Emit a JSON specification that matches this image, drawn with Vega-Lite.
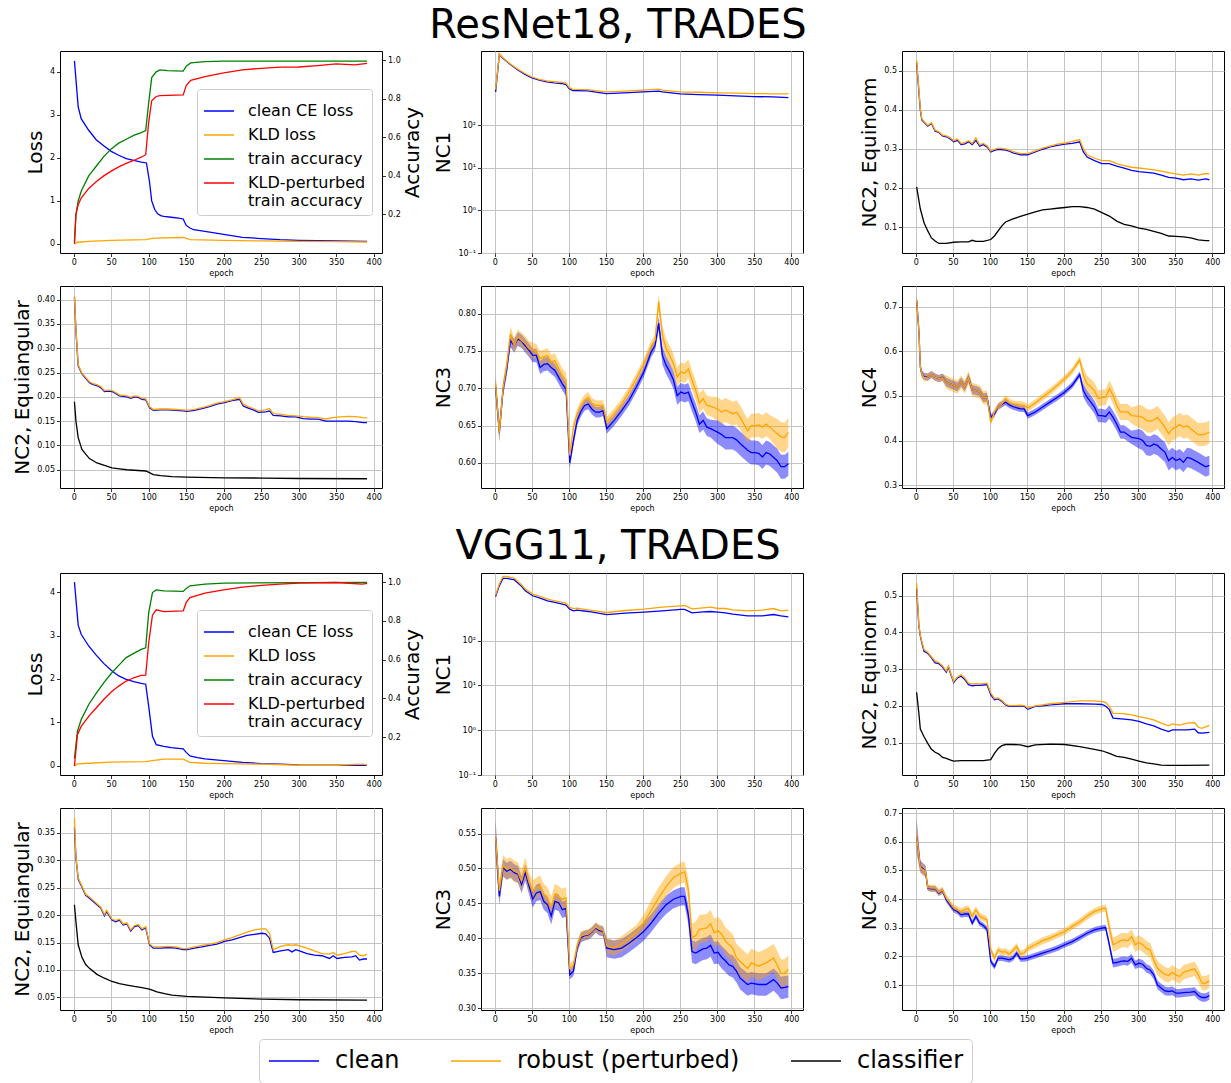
{
"$schema":"https://vega.github.io/schema/vega-lite/v6.json",
"padding":{"left":12,"top":5,"right":8,"bottom":2},
"config":{
"font":"DejaVu Sans",
"view":{"stroke":"#000000","strokeWidth":1},
"axis":{"domain":false,"tickColor":"#000000","tickSize":3.5,"tickWidth":0.8,"labelFontSize":8,"labelColor":"#000000","labelPadding":2,"titleFontSize":20,"titleFontWeight":"normal","titleColor":"#000000","titlePadding":4,"gridColor":"#c4c4c4","gridWidth":1,"labelFlush":false,"labelOverlap":false},
"axisX":{"titleFontSize":8,"titlePadding":3}
},
"bounds":"flush",
"columns":3,
"spacing":{"row":33,"column":99},
"resolve":{"scale":{"stroke":"independent"}},
"datasets":{
"rL":[
{"s":"a","e":1,"v":4.25},{"s":"a","e":6,"v":3.18},{"s":"a","e":10,"v":2.91},{"s":"a","e":20,"v":2.64},{"s":"a","e":30,"v":2.42},{"s":"a","e":40,"v":2.28},{"s":"a","e":50,"v":2.15},{"s":"a","e":60,"v":2.06},{"s":"a","e":70,"v":1.98},{"s":"a","e":80,"v":1.94},{"s":"a","e":90,"v":1.9},{"s":"a","e":97,"v":1.88},{"s":"a","e":101,"v":1.45},{"s":"a","e":104,"v":1.0},{"s":"a","e":108,"v":0.8},{"s":"a","e":112,"v":0.7},{"s":"a","e":116,"v":0.66},{"s":"a","e":120,"v":0.64},{"s":"a","e":130,"v":0.62},{"s":"a","e":140,"v":0.6},{"s":"a","e":146,"v":0.58},{"s":"a","e":150,"v":0.43},{"s":"a","e":155,"v":0.37},{"s":"a","e":160,"v":0.33},{"s":"a","e":175,"v":0.29},{"s":"a","e":200,"v":0.22},{"s":"a","e":225,"v":0.155},{"s":"a","e":250,"v":0.125},{"s":"a","e":275,"v":0.1},{"s":"a","e":300,"v":0.085},{"s":"a","e":350,"v":0.07},{"s":"a","e":391,"v":0.06},
{"s":"b","e":1,"v":0.0},{"s":"b","e":5,"v":0.04},{"s":"b","e":20,"v":0.06},{"s":"b","e":50,"v":0.085},{"s":"b","e":96,"v":0.1},{"s":"b","e":105,"v":0.13},{"s":"b","e":120,"v":0.14},{"s":"b","e":146,"v":0.15},{"s":"b","e":155,"v":0.1},{"s":"b","e":200,"v":0.085},{"s":"b","e":250,"v":0.07},{"s":"b","e":300,"v":0.06},{"s":"b","e":350,"v":0.055},{"s":"b","e":391,"v":0.045},
{"s":"c","e":1,"v":0.06},{"s":"c","e":3,"v":0.2},{"s":"c","e":6,"v":0.27},{"s":"c","e":10,"v":0.32},{"s":"c","e":20,"v":0.4},{"s":"c","e":30,"v":0.45},{"s":"c","e":40,"v":0.5},{"s":"c","e":50,"v":0.54},{"s":"c","e":60,"v":0.57},{"s":"c","e":70,"v":0.59},{"s":"c","e":80,"v":0.61},{"s":"c","e":90,"v":0.625},{"s":"c","e":96,"v":0.635},{"s":"c","e":100,"v":0.78},{"s":"c","e":104,"v":0.91},{"s":"c","e":110,"v":0.94},{"s":"c","e":115,"v":0.95},{"s":"c","e":125,"v":0.946},{"s":"c","e":146,"v":0.944},{"s":"c","e":150,"v":0.969},{"s":"c","e":156,"v":0.986},{"s":"c","e":175,"v":0.993},{"s":"c","e":200,"v":0.995},{"s":"c","e":391,"v":0.995},
{"s":"d","e":1,"v":0.048},{"s":"d","e":3,"v":0.2},{"s":"d","e":6,"v":0.25},{"s":"d","e":10,"v":0.285},{"s":"d","e":20,"v":0.335},{"s":"d","e":30,"v":0.37},{"s":"d","e":40,"v":0.4},{"s":"d","e":50,"v":0.425},{"s":"d","e":60,"v":0.447},{"s":"d","e":70,"v":0.465},{"s":"d","e":80,"v":0.48},{"s":"d","e":90,"v":0.497},{"s":"d","e":96,"v":0.51},{"s":"d","e":100,"v":0.68},{"s":"d","e":104,"v":0.79},{"s":"d","e":110,"v":0.812},{"s":"d","e":115,"v":0.817},{"s":"d","e":146,"v":0.82},{"s":"d","e":150,"v":0.869},{"s":"d","e":156,"v":0.896},{"s":"d","e":175,"v":0.915},{"s":"d","e":200,"v":0.935},{"s":"d","e":225,"v":0.95},{"s":"d","e":250,"v":0.958},{"s":"d","e":275,"v":0.964},{"s":"d","e":300,"v":0.965},{"s":"d","e":325,"v":0.972},{"s":"d","e":350,"v":0.981},{"s":"d","e":375,"v":0.976},{"s":"d","e":391,"v":0.984}
],
"rN1":[
{"s":"c","e":1,"v":612},{"s":"c","e":6,"v":4670},{"s":"c","e":10,"v":3890},{"s":"c","e":20,"v":2760},{"s":"c","e":30,"v":2065},{"s":"c","e":40,"v":1600},{"s":"c","e":50,"v":1310},{"s":"c","e":60,"v":1155},{"s":"c","e":70,"v":1055},{"s":"c","e":80,"v":1000},{"s":"c","e":90,"v":965},{"s":"c","e":96,"v":914},{"s":"c","e":100,"v":735},{"s":"c","e":105,"v":660},{"s":"c","e":125,"v":647},{"s":"c","e":150,"v":560},{"s":"c","e":175,"v":580},{"s":"c","e":200,"v":612},{"s":"c","e":221,"v":637},{"s":"c","e":226,"v":610},{"s":"c","e":250,"v":550},{"s":"c","e":275,"v":530},{"s":"c","e":300,"v":512},{"s":"c","e":325,"v":493},{"s":"c","e":350,"v":476},{"s":"c","e":375,"v":467},{"s":"c","e":396,"v":451},
{"s":"r","e":1,"v":700},{"s":"r","e":6,"v":4800},{"s":"r","e":10,"v":4000},{"s":"r","e":20,"v":2850},{"s":"r","e":30,"v":2150},{"s":"r","e":40,"v":1680},{"s":"r","e":50,"v":1370},{"s":"r","e":60,"v":1210},{"s":"r","e":70,"v":1110},{"s":"r","e":80,"v":1060},{"s":"r","e":90,"v":1020},{"s":"r","e":96,"v":980},{"s":"r","e":100,"v":790},{"s":"r","e":105,"v":700},{"s":"r","e":125,"v":690},{"s":"r","e":150,"v":612},{"s":"r","e":175,"v":640},{"s":"r","e":200,"v":671},{"s":"r","e":221,"v":708},{"s":"r","e":226,"v":670},{"s":"r","e":250,"v":612},{"s":"r","e":275,"v":600},{"s":"r","e":300,"v":580},{"s":"r","e":325,"v":570},{"s":"r","e":350,"v":560},{"s":"r","e":375,"v":550},{"s":"r","e":396,"v":550}
],
"rN2a":[
{"s":"c","e":1,"v":0.52},{"s":"c","e":6,"v":0.399},{"s":"c","e":8,"v":0.374},{"s":"c","e":11,"v":0.368},{"s":"c","e":16,"v":0.358},{"s":"c","e":21,"v":0.365},{"s":"c","e":26,"v":0.345},{"s":"c","e":31,"v":0.342},{"s":"c","e":36,"v":0.333},{"s":"c","e":41,"v":0.331},{"s":"c","e":46,"v":0.326},{"s":"c","e":51,"v":0.318},{"s":"c","e":56,"v":0.322},{"s":"c","e":61,"v":0.311},{"s":"c","e":66,"v":0.313},{"s":"c","e":71,"v":0.318},{"s":"c","e":76,"v":0.311},{"s":"c","e":81,"v":0.322},{"s":"c","e":86,"v":0.307},{"s":"c","e":91,"v":0.311},{"s":"c","e":96,"v":0.305},{"s":"c","e":101,"v":0.292},{"s":"c","e":106,"v":0.296},{"s":"c","e":111,"v":0.299},{"s":"c","e":121,"v":0.297},{"s":"c","e":126,"v":0.294},{"s":"c","e":131,"v":0.29},{"s":"c","e":141,"v":0.285},{"s":"c","e":151,"v":0.285},{"s":"c","e":161,"v":0.292},{"s":"c","e":171,"v":0.299},{"s":"c","e":181,"v":0.305},{"s":"c","e":191,"v":0.309},{"s":"c","e":201,"v":0.312},{"s":"c","e":211,"v":0.314},{"s":"c","e":221,"v":0.318},{"s":"c","e":226,"v":0.292},{"s":"c","e":231,"v":0.279},{"s":"c","e":241,"v":0.27},{"s":"c","e":251,"v":0.262},{"s":"c","e":261,"v":0.262},{"s":"c","e":271,"v":0.256},{"s":"c","e":281,"v":0.251},{"s":"c","e":291,"v":0.245},{"s":"c","e":301,"v":0.242},{"s":"c","e":311,"v":0.24},{"s":"c","e":321,"v":0.238},{"s":"c","e":331,"v":0.233},{"s":"c","e":341,"v":0.227},{"s":"c","e":351,"v":0.225},{"s":"c","e":361,"v":0.221},{"s":"c","e":371,"v":0.223},{"s":"c","e":381,"v":0.22},{"s":"c","e":391,"v":0.223},{"s":"c","e":396,"v":0.221},
{"s":"r","e":1,"v":0.527},{"s":"r","e":6,"v":0.402},{"s":"r","e":8,"v":0.377},{"s":"r","e":11,"v":0.37},{"s":"r","e":16,"v":0.36},{"s":"r","e":21,"v":0.367},{"s":"r","e":26,"v":0.348},{"s":"r","e":31,"v":0.344},{"s":"r","e":36,"v":0.335},{"s":"r","e":41,"v":0.333},{"s":"r","e":46,"v":0.329},{"s":"r","e":51,"v":0.321},{"s":"r","e":56,"v":0.325},{"s":"r","e":61,"v":0.314},{"s":"r","e":66,"v":0.316},{"s":"r","e":71,"v":0.321},{"s":"r","e":76,"v":0.314},{"s":"r","e":81,"v":0.328},{"s":"r","e":86,"v":0.31},{"s":"r","e":91,"v":0.314},{"s":"r","e":96,"v":0.308},{"s":"r","e":101,"v":0.295},{"s":"r","e":106,"v":0.299},{"s":"r","e":111,"v":0.302},{"s":"r","e":121,"v":0.3},{"s":"r","e":126,"v":0.297},{"s":"r","e":131,"v":0.293},{"s":"r","e":141,"v":0.288},{"s":"r","e":151,"v":0.288},{"s":"r","e":161,"v":0.295},{"s":"r","e":171,"v":0.302},{"s":"r","e":181,"v":0.307},{"s":"r","e":191,"v":0.312},{"s":"r","e":201,"v":0.315},{"s":"r","e":211,"v":0.319},{"s":"r","e":221,"v":0.324},{"s":"r","e":226,"v":0.3},{"s":"r","e":231,"v":0.285},{"s":"r","e":241,"v":0.276},{"s":"r","e":251,"v":0.27},{"s":"r","e":261,"v":0.27},{"s":"r","e":271,"v":0.262},{"s":"r","e":281,"v":0.257},{"s":"r","e":291,"v":0.253},{"s":"r","e":301,"v":0.251},{"s":"r","e":311,"v":0.249},{"s":"r","e":321,"v":0.246},{"s":"r","e":331,"v":0.243},{"s":"r","e":341,"v":0.239},{"s":"r","e":351,"v":0.236},{"s":"r","e":361,"v":0.233},{"s":"r","e":371,"v":0.236},{"s":"r","e":381,"v":0.233},{"s":"r","e":391,"v":0.237},{"s":"r","e":396,"v":0.236},
{"s":"k","e":1,"v":0.203},{"s":"k","e":6,"v":0.146},{"s":"k","e":11,"v":0.111},{"s":"k","e":16,"v":0.09},{"s":"k","e":21,"v":0.072},{"s":"k","e":26,"v":0.064},{"s":"k","e":31,"v":0.058},{"s":"k","e":41,"v":0.058},{"s":"k","e":51,"v":0.061},{"s":"k","e":61,"v":0.062},{"s":"k","e":71,"v":0.062},{"s":"k","e":76,"v":0.066},{"s":"k","e":81,"v":0.063},{"s":"k","e":91,"v":0.063},{"s":"k","e":101,"v":0.068},{"s":"k","e":106,"v":0.077},{"s":"k","e":111,"v":0.09},{"s":"k","e":116,"v":0.103},{"s":"k","e":121,"v":0.113},{"s":"k","e":131,"v":0.121},{"s":"k","e":141,"v":0.127},{"s":"k","e":151,"v":0.133},{"s":"k","e":161,"v":0.139},{"s":"k","e":171,"v":0.144},{"s":"k","e":181,"v":0.146},{"s":"k","e":191,"v":0.148},{"s":"k","e":201,"v":0.15},{"s":"k","e":211,"v":0.152},{"s":"k","e":221,"v":0.152},{"s":"k","e":231,"v":0.15},{"s":"k","e":241,"v":0.146},{"s":"k","e":251,"v":0.137},{"s":"k","e":261,"v":0.128},{"s":"k","e":271,"v":0.115},{"s":"k","e":281,"v":0.107},{"s":"k","e":291,"v":0.103},{"s":"k","e":301,"v":0.097},{"s":"k","e":311,"v":0.094},{"s":"k","e":321,"v":0.089},{"s":"k","e":331,"v":0.084},{"s":"k","e":341,"v":0.077},{"s":"k","e":351,"v":0.076},{"s":"k","e":361,"v":0.075},{"s":"k","e":371,"v":0.072},{"s":"k","e":381,"v":0.067},{"s":"k","e":391,"v":0.065},{"s":"k","e":396,"v":0.065}
],
"rN2b":[
{"s":"c","e":1,"v":0.405},{"s":"c","e":3,"v":0.336},{"s":"c","e":6,"v":0.264},{"s":"c","e":11,"v":0.247},{"s":"c","e":16,"v":0.238},{"s":"c","e":21,"v":0.229},{"s":"c","e":26,"v":0.225},{"s":"c","e":31,"v":0.223},{"s":"c","e":36,"v":0.219},{"s":"c","e":41,"v":0.211},{"s":"c","e":46,"v":0.212},{"s":"c","e":51,"v":0.211},{"s":"c","e":56,"v":0.207},{"s":"c","e":61,"v":0.202},{"s":"c","e":66,"v":0.201},{"s":"c","e":71,"v":0.2},{"s":"c","e":76,"v":0.197},{"s":"c","e":81,"v":0.2},{"s":"c","e":86,"v":0.199},{"s":"c","e":91,"v":0.195},{"s":"c","e":96,"v":0.194},{"s":"c","e":101,"v":0.178},{"s":"c","e":106,"v":0.172},{"s":"c","e":116,"v":0.173},{"s":"c","e":126,"v":0.173},{"s":"c","e":136,"v":0.172},{"s":"c","e":146,"v":0.171},{"s":"c","e":151,"v":0.17},{"s":"c","e":161,"v":0.172},{"s":"c","e":171,"v":0.176},{"s":"c","e":181,"v":0.18},{"s":"c","e":191,"v":0.185},{"s":"c","e":201,"v":0.188},{"s":"c","e":211,"v":0.192},{"s":"c","e":221,"v":0.195},{"s":"c","e":226,"v":0.181},{"s":"c","e":231,"v":0.178},{"s":"c","e":241,"v":0.172},{"s":"c","e":246,"v":0.168},{"s":"c","e":256,"v":0.169},{"s":"c","e":261,"v":0.171},{"s":"c","e":266,"v":0.162},{"s":"c","e":276,"v":0.161},{"s":"c","e":286,"v":0.159},{"s":"c","e":296,"v":0.159},{"s":"c","e":306,"v":0.155},{"s":"c","e":316,"v":0.154},{"s":"c","e":326,"v":0.154},{"s":"c","e":336,"v":0.15},{"s":"c","e":346,"v":0.15},{"s":"c","e":356,"v":0.15},{"s":"c","e":366,"v":0.15},{"s":"c","e":376,"v":0.149},{"s":"c","e":386,"v":0.147},{"s":"c","e":391,"v":0.147},
{"s":"r","e":1,"v":0.407},{"s":"r","e":3,"v":0.338},{"s":"r","e":6,"v":0.266},{"s":"r","e":11,"v":0.249},{"s":"r","e":16,"v":0.24},{"s":"r","e":21,"v":0.231},{"s":"r","e":26,"v":0.227},{"s":"r","e":31,"v":0.225},{"s":"r","e":36,"v":0.221},{"s":"r","e":41,"v":0.213},{"s":"r","e":46,"v":0.214},{"s":"r","e":51,"v":0.213},{"s":"r","e":56,"v":0.209},{"s":"r","e":61,"v":0.204},{"s":"r","e":66,"v":0.203},{"s":"r","e":71,"v":0.202},{"s":"r","e":76,"v":0.199},{"s":"r","e":81,"v":0.202},{"s":"r","e":86,"v":0.201},{"s":"r","e":91,"v":0.197},{"s":"r","e":96,"v":0.196},{"s":"r","e":101,"v":0.18},{"s":"r","e":106,"v":0.174},{"s":"r","e":116,"v":0.175},{"s":"r","e":126,"v":0.175},{"s":"r","e":136,"v":0.174},{"s":"r","e":146,"v":0.173},{"s":"r","e":151,"v":0.172},{"s":"r","e":161,"v":0.174},{"s":"r","e":171,"v":0.178},{"s":"r","e":181,"v":0.182},{"s":"r","e":191,"v":0.187},{"s":"r","e":201,"v":0.19},{"s":"r","e":211,"v":0.194},{"s":"r","e":221,"v":0.1985},{"s":"r","e":226,"v":0.185},{"s":"r","e":231,"v":0.181},{"s":"r","e":241,"v":0.175},{"s":"r","e":246,"v":0.171},{"s":"r","e":256,"v":0.173},{"s":"r","e":261,"v":0.176},{"s":"r","e":266,"v":0.1655},{"s":"r","e":276,"v":0.164},{"s":"r","e":286,"v":0.162},{"s":"r","e":296,"v":0.161},{"s":"r","e":306,"v":0.1593},{"s":"r","e":316,"v":0.158},{"s":"r","e":326,"v":0.1573},{"s":"r","e":336,"v":0.1545},{"s":"r","e":346,"v":0.1573},{"s":"r","e":356,"v":0.1586},{"s":"r","e":366,"v":0.16},{"s":"r","e":376,"v":0.1593},{"s":"r","e":386,"v":0.1573},{"s":"r","e":391,"v":0.1566},
{"s":"k","e":1,"v":0.19},{"s":"k","e":3,"v":0.15},{"s":"k","e":6,"v":0.116},{"s":"k","e":11,"v":0.092},{"s":"k","e":16,"v":0.082},{"s":"k","e":21,"v":0.073},{"s":"k","e":31,"v":0.064},{"s":"k","e":41,"v":0.059},{"s":"k","e":51,"v":0.054},{"s":"k","e":61,"v":0.052},{"s":"k","e":71,"v":0.05},{"s":"k","e":81,"v":0.049},{"s":"k","e":91,"v":0.048},{"s":"k","e":96,"v":0.0475},{"s":"k","e":101,"v":0.044},{"s":"k","e":106,"v":0.04},{"s":"k","e":116,"v":0.038},{"s":"k","e":131,"v":0.036},{"s":"k","e":151,"v":0.035},{"s":"k","e":201,"v":0.0335},{"s":"k","e":251,"v":0.033},{"s":"k","e":301,"v":0.032},{"s":"k","e":391,"v":0.0315}
],
"rN3":[
{"s":"c","e":1,"v":0.702,"l":0.69,"h":0.714},{"s":"c","e":6,"v":0.641,"l":0.629,"h":0.653},{"s":"c","e":11,"v":0.698,"l":0.689,"h":0.707},{"s":"c","e":16,"v":0.726,"l":0.717,"h":0.735},{"s":"c","e":21,"v":0.764,"l":0.755,"h":0.773},{"s":"c","e":26,"v":0.757,"l":0.748,"h":0.766},{"s":"c","e":31,"v":0.766,"l":0.757,"h":0.775},{"s":"c","e":36,"v":0.763,"l":0.754,"h":0.772},{"s":"c","e":41,"v":0.757,"l":0.748,"h":0.766},{"s":"c","e":46,"v":0.751,"l":0.742,"h":0.76},{"s":"c","e":51,"v":0.744,"l":0.735,"h":0.753},{"s":"c","e":56,"v":0.744,"l":0.735,"h":0.753},{"s":"c","e":61,"v":0.728,"l":0.719,"h":0.737},{"s":"c","e":66,"v":0.732,"l":0.723,"h":0.741},{"s":"c","e":71,"v":0.733,"l":0.724,"h":0.742},{"s":"c","e":76,"v":0.728,"l":0.719,"h":0.737},{"s":"c","e":81,"v":0.724,"l":0.715,"h":0.733},{"s":"c","e":86,"v":0.715,"l":0.706,"h":0.724},{"s":"c","e":91,"v":0.706,"l":0.697,"h":0.715},{"s":"c","e":96,"v":0.699,"l":0.69,"h":0.708},{"s":"c","e":101,"v":0.6,"l":0.593,"h":0.607},{"s":"c","e":106,"v":0.63,"l":0.623,"h":0.637},{"s":"c","e":111,"v":0.657,"l":0.65,"h":0.664},{"s":"c","e":116,"v":0.669,"l":0.662,"h":0.676},{"s":"c","e":121,"v":0.677,"l":0.67,"h":0.684},{"s":"c","e":126,"v":0.679,"l":0.672,"h":0.686},{"s":"c","e":131,"v":0.672,"l":0.665,"h":0.679},{"s":"c","e":136,"v":0.668,"l":0.661,"h":0.675},{"s":"c","e":141,"v":0.668,"l":0.661,"h":0.675},{"s":"c","e":146,"v":0.67,"l":0.663,"h":0.677},{"s":"c","e":151,"v":0.646,"l":0.639,"h":0.653},{"s":"c","e":161,"v":0.657,"l":0.65,"h":0.664},{"s":"c","e":171,"v":0.67,"l":0.663,"h":0.677},{"s":"c","e":181,"v":0.684,"l":0.677,"h":0.691},{"s":"c","e":191,"v":0.702,"l":0.695,"h":0.709},{"s":"c","e":201,"v":0.722,"l":0.715,"h":0.729},{"s":"c","e":211,"v":0.749,"l":0.742,"h":0.756},{"s":"c","e":216,"v":0.757,"l":0.75,"h":0.764},{"s":"c","e":221,"v":0.787,"l":0.778,"h":0.796},{"s":"c","e":226,"v":0.744,"l":0.732,"h":0.756},{"s":"c","e":231,"v":0.731,"l":0.719,"h":0.743},{"s":"c","e":236,"v":0.722,"l":0.71,"h":0.734},{"s":"c","e":241,"v":0.711,"l":0.699,"h":0.723},{"s":"c","e":246,"v":0.69,"l":0.678,"h":0.702},{"s":"c","e":251,"v":0.695,"l":0.683,"h":0.707},{"s":"c","e":256,"v":0.693,"l":0.681,"h":0.705},{"s":"c","e":261,"v":0.695,"l":0.683,"h":0.707},{"s":"c","e":266,"v":0.681,"l":0.669,"h":0.693},{"s":"c","e":271,"v":0.668,"l":0.656,"h":0.68},{"s":"c","e":276,"v":0.652,"l":0.64,"h":0.664},{"s":"c","e":281,"v":0.657,"l":0.645,"h":0.669},{"s":"c","e":286,"v":0.648,"l":0.636,"h":0.66},{"s":"c","e":291,"v":0.646,"l":0.634,"h":0.658},{"s":"c","e":301,"v":0.641,"l":0.625,"h":0.657},{"s":"c","e":306,"v":0.638,"l":0.622,"h":0.654},{"s":"c","e":311,"v":0.634,"l":0.618,"h":0.65},{"s":"c","e":321,"v":0.634,"l":0.618,"h":0.65},{"s":"c","e":326,"v":0.631,"l":0.615,"h":0.647},{"s":"c","e":331,"v":0.626,"l":0.61,"h":0.642},{"s":"c","e":341,"v":0.617,"l":0.601,"h":0.633},{"s":"c","e":346,"v":0.614,"l":0.598,"h":0.63},{"s":"c","e":351,"v":0.614,"l":0.598,"h":0.63},{"s":"c","e":356,"v":0.613,"l":0.597,"h":0.629},{"s":"c","e":361,"v":0.608,"l":0.592,"h":0.624},{"s":"c","e":366,"v":0.614,"l":0.598,"h":0.63},{"s":"c","e":371,"v":0.612,"l":0.596,"h":0.628},{"s":"c","e":381,"v":0.603,"l":0.587,"h":0.619},{"s":"c","e":386,"v":0.595,"l":0.579,"h":0.611},{"s":"c","e":391,"v":0.595,"l":0.579,"h":0.611},{"s":"c","e":396,"v":0.599,"l":0.583,"h":0.615},
{"s":"r","e":1,"v":0.706,"l":0.691,"h":0.721},{"s":"r","e":6,"v":0.641,"l":0.627,"h":0.655},{"s":"r","e":11,"v":0.7,"l":0.69,"h":0.71},{"s":"r","e":16,"v":0.731,"l":0.721,"h":0.741},{"s":"r","e":21,"v":0.773,"l":0.763,"h":0.783},{"s":"r","e":26,"v":0.757,"l":0.747,"h":0.767},{"s":"r","e":31,"v":0.769,"l":0.759,"h":0.779},{"s":"r","e":36,"v":0.764,"l":0.754,"h":0.774},{"s":"r","e":41,"v":0.76,"l":0.75,"h":0.77},{"s":"r","e":46,"v":0.753,"l":0.743,"h":0.763},{"s":"r","e":51,"v":0.751,"l":0.741,"h":0.761},{"s":"r","e":56,"v":0.749,"l":0.739,"h":0.759},{"s":"r","e":61,"v":0.74,"l":0.73,"h":0.75},{"s":"r","e":66,"v":0.742,"l":0.732,"h":0.752},{"s":"r","e":71,"v":0.744,"l":0.734,"h":0.754},{"s":"r","e":76,"v":0.735,"l":0.725,"h":0.745},{"s":"r","e":81,"v":0.737,"l":0.727,"h":0.747},{"s":"r","e":86,"v":0.726,"l":0.716,"h":0.736},{"s":"r","e":91,"v":0.717,"l":0.707,"h":0.727},{"s":"r","e":96,"v":0.711,"l":0.701,"h":0.721},{"s":"r","e":101,"v":0.61,"l":0.603,"h":0.617},{"s":"r","e":106,"v":0.648,"l":0.641,"h":0.655},{"s":"r","e":111,"v":0.666,"l":0.659,"h":0.673},{"s":"r","e":116,"v":0.677,"l":0.67,"h":0.684},{"s":"r","e":121,"v":0.684,"l":0.677,"h":0.691},{"s":"r","e":126,"v":0.688,"l":0.681,"h":0.695},{"s":"r","e":131,"v":0.68,"l":0.673,"h":0.687},{"s":"r","e":136,"v":0.677,"l":0.67,"h":0.684},{"s":"r","e":141,"v":0.677,"l":0.67,"h":0.684},{"s":"r","e":146,"v":0.677,"l":0.67,"h":0.684},{"s":"r","e":151,"v":0.655,"l":0.648,"h":0.662},{"s":"r","e":161,"v":0.666,"l":0.659,"h":0.673},{"s":"r","e":171,"v":0.679,"l":0.672,"h":0.686},{"s":"r","e":181,"v":0.695,"l":0.688,"h":0.702},{"s":"r","e":191,"v":0.713,"l":0.706,"h":0.72},{"s":"r","e":201,"v":0.733,"l":0.726,"h":0.74},{"s":"r","e":211,"v":0.757,"l":0.75,"h":0.764},{"s":"r","e":216,"v":0.764,"l":0.757,"h":0.771},{"s":"r","e":221,"v":0.816,"l":0.806,"h":0.826},{"s":"r","e":226,"v":0.771,"l":0.758,"h":0.784},{"s":"r","e":231,"v":0.753,"l":0.74,"h":0.766},{"s":"r","e":236,"v":0.744,"l":0.731,"h":0.757},{"s":"r","e":241,"v":0.733,"l":0.72,"h":0.746},{"s":"r","e":246,"v":0.715,"l":0.702,"h":0.728},{"s":"r","e":251,"v":0.722,"l":0.709,"h":0.735},{"s":"r","e":256,"v":0.72,"l":0.707,"h":0.733},{"s":"r","e":261,"v":0.726,"l":0.713,"h":0.739},{"s":"r","e":266,"v":0.711,"l":0.698,"h":0.724},{"s":"r","e":271,"v":0.697,"l":0.684,"h":0.71},{"s":"r","e":276,"v":0.68,"l":0.667,"h":0.693},{"s":"r","e":281,"v":0.686,"l":0.673,"h":0.699},{"s":"r","e":286,"v":0.677,"l":0.664,"h":0.69},{"s":"r","e":291,"v":0.676,"l":0.663,"h":0.689},{"s":"r","e":301,"v":0.672,"l":0.656,"h":0.688},{"s":"r","e":306,"v":0.668,"l":0.652,"h":0.684},{"s":"r","e":311,"v":0.671,"l":0.655,"h":0.687},{"s":"r","e":321,"v":0.666,"l":0.65,"h":0.682},{"s":"r","e":326,"v":0.668,"l":0.652,"h":0.684},{"s":"r","e":331,"v":0.661,"l":0.645,"h":0.677},{"s":"r","e":341,"v":0.643,"l":0.627,"h":0.659},{"s":"r","e":346,"v":0.65,"l":0.634,"h":0.666},{"s":"r","e":351,"v":0.65,"l":0.634,"h":0.666},{"s":"r","e":356,"v":0.651,"l":0.635,"h":0.667},{"s":"r","e":361,"v":0.648,"l":0.632,"h":0.664},{"s":"r","e":366,"v":0.652,"l":0.636,"h":0.668},{"s":"r","e":371,"v":0.648,"l":0.632,"h":0.664},{"s":"r","e":381,"v":0.639,"l":0.619,"h":0.659},{"s":"r","e":386,"v":0.635,"l":0.615,"h":0.655},{"s":"r","e":391,"v":0.634,"l":0.614,"h":0.654},{"s":"r","e":396,"v":0.641,"l":0.621,"h":0.661}
],
"rN4":[
{"s":"c","e":1,"v":0.715,"l":0.703,"h":0.727},{"s":"c","e":4,"v":0.647,"l":0.637,"h":0.657},{"s":"c","e":6,"v":0.565,"l":0.555,"h":0.575},{"s":"c","e":8,"v":0.55,"l":0.542,"h":0.558},{"s":"c","e":11,"v":0.544,"l":0.536,"h":0.552},{"s":"c","e":16,"v":0.542,"l":0.534,"h":0.55},{"s":"c","e":21,"v":0.548,"l":0.54,"h":0.556},{"s":"c","e":26,"v":0.542,"l":0.534,"h":0.55},{"s":"c","e":31,"v":0.539,"l":0.531,"h":0.547},{"s":"c","e":36,"v":0.542,"l":0.534,"h":0.55},{"s":"c","e":41,"v":0.531,"l":0.521,"h":0.541},{"s":"c","e":46,"v":0.527,"l":0.517,"h":0.537},{"s":"c","e":51,"v":0.524,"l":0.514,"h":0.534},{"s":"c","e":56,"v":0.52,"l":0.51,"h":0.53},{"s":"c","e":61,"v":0.531,"l":0.521,"h":0.541},{"s":"c","e":66,"v":0.52,"l":0.51,"h":0.53},{"s":"c","e":71,"v":0.541,"l":0.531,"h":0.551},{"s":"c","e":76,"v":0.514,"l":0.504,"h":0.524},{"s":"c","e":81,"v":0.512,"l":0.502,"h":0.522},{"s":"c","e":86,"v":0.509,"l":0.499,"h":0.519},{"s":"c","e":91,"v":0.496,"l":0.486,"h":0.506},{"s":"c","e":96,"v":0.497,"l":0.487,"h":0.507},{"s":"c","e":101,"v":0.452,"l":0.445,"h":0.459},{"s":"c","e":106,"v":0.46,"l":0.453,"h":0.467},{"s":"c","e":111,"v":0.476,"l":0.469,"h":0.483},{"s":"c","e":116,"v":0.481,"l":0.474,"h":0.488},{"s":"c","e":121,"v":0.486,"l":0.479,"h":0.493},{"s":"c","e":126,"v":0.48,"l":0.473,"h":0.487},{"s":"c","e":131,"v":0.476,"l":0.469,"h":0.483},{"s":"c","e":141,"v":0.471,"l":0.464,"h":0.478},{"s":"c","e":146,"v":0.471,"l":0.464,"h":0.478},{"s":"c","e":151,"v":0.456,"l":0.449,"h":0.463},{"s":"c","e":161,"v":0.464,"l":0.457,"h":0.471},{"s":"c","e":171,"v":0.475,"l":0.468,"h":0.482},{"s":"c","e":181,"v":0.486,"l":0.479,"h":0.493},{"s":"c","e":191,"v":0.497,"l":0.49,"h":0.504},{"s":"c","e":201,"v":0.509,"l":0.502,"h":0.516},{"s":"c","e":211,"v":0.524,"l":0.517,"h":0.531},{"s":"c","e":221,"v":0.548,"l":0.541,"h":0.555},{"s":"c","e":226,"v":0.512,"l":0.497,"h":0.527},{"s":"c","e":231,"v":0.497,"l":0.482,"h":0.512},{"s":"c","e":236,"v":0.486,"l":0.471,"h":0.501},{"s":"c","e":241,"v":0.475,"l":0.46,"h":0.49},{"s":"c","e":246,"v":0.456,"l":0.441,"h":0.471},{"s":"c","e":251,"v":0.456,"l":0.441,"h":0.471},{"s":"c","e":256,"v":0.454,"l":0.439,"h":0.469},{"s":"c","e":261,"v":0.464,"l":0.449,"h":0.479},{"s":"c","e":266,"v":0.452,"l":0.437,"h":0.467},{"s":"c","e":271,"v":0.437,"l":0.422,"h":0.452},{"s":"c","e":276,"v":0.419,"l":0.404,"h":0.434},{"s":"c","e":281,"v":0.419,"l":0.404,"h":0.434},{"s":"c","e":286,"v":0.413,"l":0.398,"h":0.428},{"s":"c","e":291,"v":0.407,"l":0.392,"h":0.422},{"s":"c","e":301,"v":0.404,"l":0.382,"h":0.426},{"s":"c","e":306,"v":0.4,"l":0.378,"h":0.422},{"s":"c","e":311,"v":0.389,"l":0.367,"h":0.411},{"s":"c","e":316,"v":0.387,"l":0.365,"h":0.409},{"s":"c","e":321,"v":0.392,"l":0.37,"h":0.414},{"s":"c","e":326,"v":0.389,"l":0.367,"h":0.411},{"s":"c","e":331,"v":0.381,"l":0.359,"h":0.403},{"s":"c","e":336,"v":0.374,"l":0.352,"h":0.396},{"s":"c","e":341,"v":0.355,"l":0.333,"h":0.377},{"s":"c","e":346,"v":0.362,"l":0.34,"h":0.384},{"s":"c","e":351,"v":0.355,"l":0.333,"h":0.377},{"s":"c","e":356,"v":0.359,"l":0.337,"h":0.381},{"s":"c","e":361,"v":0.351,"l":0.329,"h":0.373},{"s":"c","e":366,"v":0.362,"l":0.34,"h":0.384},{"s":"c","e":371,"v":0.36,"l":0.338,"h":0.382},{"s":"c","e":381,"v":0.351,"l":0.329,"h":0.373},{"s":"c","e":386,"v":0.346,"l":0.324,"h":0.368},{"s":"c","e":391,"v":0.341,"l":0.319,"h":0.363},{"s":"c","e":396,"v":0.344,"l":0.322,"h":0.366},
{"s":"r","e":1,"v":0.715,"l":0.703,"h":0.727},{"s":"r","e":4,"v":0.647,"l":0.637,"h":0.657},{"s":"r","e":6,"v":0.565,"l":0.555,"h":0.575},{"s":"r","e":8,"v":0.55,"l":0.542,"h":0.558},{"s":"r","e":11,"v":0.541,"l":0.533,"h":0.549},{"s":"r","e":16,"v":0.542,"l":0.534,"h":0.55},{"s":"r","e":21,"v":0.548,"l":0.54,"h":0.556},{"s":"r","e":26,"v":0.542,"l":0.534,"h":0.55},{"s":"r","e":31,"v":0.539,"l":0.531,"h":0.547},{"s":"r","e":36,"v":0.541,"l":0.533,"h":0.549},{"s":"r","e":41,"v":0.531,"l":0.516,"h":0.546},{"s":"r","e":46,"v":0.527,"l":0.512,"h":0.542},{"s":"r","e":51,"v":0.524,"l":0.509,"h":0.539},{"s":"r","e":56,"v":0.52,"l":0.505,"h":0.535},{"s":"r","e":61,"v":0.531,"l":0.516,"h":0.546},{"s":"r","e":66,"v":0.52,"l":0.505,"h":0.535},{"s":"r","e":71,"v":0.541,"l":0.526,"h":0.556},{"s":"r","e":76,"v":0.514,"l":0.499,"h":0.529},{"s":"r","e":81,"v":0.512,"l":0.497,"h":0.527},{"s":"r","e":86,"v":0.509,"l":0.494,"h":0.524},{"s":"r","e":91,"v":0.496,"l":0.481,"h":0.511},{"s":"r","e":96,"v":0.497,"l":0.482,"h":0.512},{"s":"r","e":101,"v":0.441,"l":0.433,"h":0.449},{"s":"r","e":106,"v":0.464,"l":0.456,"h":0.472},{"s":"r","e":111,"v":0.476,"l":0.468,"h":0.484},{"s":"r","e":116,"v":0.482,"l":0.474,"h":0.49},{"s":"r","e":121,"v":0.494,"l":0.486,"h":0.502},{"s":"r","e":126,"v":0.486,"l":0.478,"h":0.494},{"s":"r","e":131,"v":0.482,"l":0.474,"h":0.49},{"s":"r","e":141,"v":0.48,"l":0.472,"h":0.488},{"s":"r","e":146,"v":0.479,"l":0.471,"h":0.487},{"s":"r","e":151,"v":0.473,"l":0.465,"h":0.481},{"s":"r","e":161,"v":0.484,"l":0.476,"h":0.492},{"s":"r","e":171,"v":0.497,"l":0.489,"h":0.505},{"s":"r","e":181,"v":0.51,"l":0.502,"h":0.518},{"s":"r","e":191,"v":0.524,"l":0.516,"h":0.532},{"s":"r","e":201,"v":0.539,"l":0.531,"h":0.547},{"s":"r","e":211,"v":0.556,"l":0.548,"h":0.564},{"s":"r","e":221,"v":0.581,"l":0.573,"h":0.589},{"s":"r","e":226,"v":0.546,"l":0.528,"h":0.564},{"s":"r","e":231,"v":0.527,"l":0.509,"h":0.545},{"s":"r","e":236,"v":0.52,"l":0.502,"h":0.538},{"s":"r","e":241,"v":0.512,"l":0.494,"h":0.53},{"s":"r","e":246,"v":0.494,"l":0.476,"h":0.512},{"s":"r","e":251,"v":0.496,"l":0.478,"h":0.514},{"s":"r","e":256,"v":0.497,"l":0.479,"h":0.515},{"s":"r","e":261,"v":0.516,"l":0.498,"h":0.534},{"s":"r","e":266,"v":0.501,"l":0.483,"h":0.519},{"s":"r","e":271,"v":0.479,"l":0.461,"h":0.497},{"s":"r","e":276,"v":0.464,"l":0.446,"h":0.482},{"s":"r","e":281,"v":0.464,"l":0.446,"h":0.482},{"s":"r","e":286,"v":0.464,"l":0.446,"h":0.482},{"s":"r","e":291,"v":0.456,"l":0.438,"h":0.474},{"s":"r","e":301,"v":0.454,"l":0.428,"h":0.48},{"s":"r","e":306,"v":0.452,"l":0.426,"h":0.478},{"s":"r","e":311,"v":0.445,"l":0.419,"h":0.471},{"s":"r","e":316,"v":0.443,"l":0.417,"h":0.469},{"s":"r","e":321,"v":0.446,"l":0.42,"h":0.472},{"s":"r","e":326,"v":0.452,"l":0.426,"h":0.478},{"s":"r","e":331,"v":0.441,"l":0.415,"h":0.467},{"s":"r","e":336,"v":0.43,"l":0.404,"h":0.456},{"s":"r","e":341,"v":0.415,"l":0.389,"h":0.441},{"s":"r","e":346,"v":0.426,"l":0.4,"h":0.452},{"s":"r","e":351,"v":0.43,"l":0.404,"h":0.456},{"s":"r","e":356,"v":0.436,"l":0.41,"h":0.462},{"s":"r","e":361,"v":0.43,"l":0.404,"h":0.456},{"s":"r","e":366,"v":0.433,"l":0.407,"h":0.459},{"s":"r","e":371,"v":0.426,"l":0.4,"h":0.452},{"s":"r","e":381,"v":0.413,"l":0.387,"h":0.439},{"s":"r","e":386,"v":0.413,"l":0.387,"h":0.439},{"s":"r","e":391,"v":0.415,"l":0.389,"h":0.441},{"s":"r","e":396,"v":0.419,"l":0.393,"h":0.445}
],
"vL":[
{"s":"a","e":1,"v":4.23},{"s":"a","e":6,"v":3.24},{"s":"a","e":10,"v":3.03},{"s":"a","e":20,"v":2.76},{"s":"a","e":30,"v":2.55},{"s":"a","e":40,"v":2.36},{"s":"a","e":50,"v":2.2},{"s":"a","e":60,"v":2.07},{"s":"a","e":70,"v":1.99},{"s":"a","e":80,"v":1.94},{"s":"a","e":90,"v":1.9},{"s":"a","e":96,"v":1.88},{"s":"a","e":100,"v":1.37},{"s":"a","e":105,"v":0.68},{"s":"a","e":110,"v":0.49},{"s":"a","e":120,"v":0.45},{"s":"a","e":130,"v":0.42},{"s":"a","e":146,"v":0.39},{"s":"a","e":150,"v":0.31},{"s":"a","e":155,"v":0.23},{"s":"a","e":165,"v":0.19},{"s":"a","e":175,"v":0.16},{"s":"a","e":200,"v":0.12},{"s":"a","e":225,"v":0.08},{"s":"a","e":250,"v":0.054},{"s":"a","e":275,"v":0.04},{"s":"a","e":300,"v":0.025},{"s":"a","e":350,"v":0.015},{"s":"a","e":391,"v":0.01},
{"s":"b","e":1,"v":0.0},{"s":"b","e":5,"v":0.046},{"s":"b","e":20,"v":0.06},{"s":"b","e":50,"v":0.085},{"s":"b","e":96,"v":0.1},{"s":"b","e":105,"v":0.12},{"s":"b","e":120,"v":0.155},{"s":"b","e":146,"v":0.155},{"s":"b","e":155,"v":0.08},{"s":"b","e":175,"v":0.06},{"s":"b","e":200,"v":0.054},{"s":"b","e":250,"v":0.04},{"s":"b","e":300,"v":0.015},{"s":"b","e":350,"v":0.015},{"s":"b","e":385,"v":0.04},{"s":"b","e":391,"v":0.025},
{"s":"c","e":1,"v":0.09},{"s":"c","e":5,"v":0.229},{"s":"c","e":10,"v":0.29},{"s":"c","e":20,"v":0.368},{"s":"c","e":30,"v":0.425},{"s":"c","e":40,"v":0.48},{"s":"c","e":50,"v":0.528},{"s":"c","e":60,"v":0.57},{"s":"c","e":70,"v":0.61},{"s":"c","e":80,"v":0.632},{"s":"c","e":90,"v":0.653},{"s":"c","e":96,"v":0.661},{"s":"c","e":100,"v":0.843},{"s":"c","e":105,"v":0.946},{"s":"c","e":110,"v":0.96},{"s":"c","e":120,"v":0.955},{"s":"c","e":146,"v":0.952},{"s":"c","e":150,"v":0.967},{"s":"c","e":155,"v":0.981},{"s":"c","e":175,"v":0.99},{"s":"c","e":200,"v":0.995},{"s":"c","e":300,"v":0.997},{"s":"c","e":391,"v":0.998},
{"s":"d","e":1,"v":0.051},{"s":"d","e":5,"v":0.212},{"s":"d","e":10,"v":0.255},{"s":"d","e":20,"v":0.307},{"s":"d","e":30,"v":0.35},{"s":"d","e":40,"v":0.394},{"s":"d","e":50,"v":0.432},{"s":"d","e":60,"v":0.463},{"s":"d","e":70,"v":0.489},{"s":"d","e":80,"v":0.506},{"s":"d","e":90,"v":0.518},{"s":"d","e":96,"v":0.52},{"s":"d","e":100,"v":0.687},{"s":"d","e":105,"v":0.829},{"s":"d","e":110,"v":0.857},{"s":"d","e":120,"v":0.848},{"s":"d","e":146,"v":0.851},{"s":"d","e":150,"v":0.895},{"s":"d","e":155,"v":0.92},{"s":"d","e":175,"v":0.943},{"s":"d","e":200,"v":0.96},{"s":"d","e":225,"v":0.974},{"s":"d","e":250,"v":0.983},{"s":"d","e":275,"v":0.99},{"s":"d","e":300,"v":0.995},{"s":"d","e":350,"v":0.998},{"s":"d","e":385,"v":0.99},{"s":"d","e":391,"v":0.993}
],
"vN1":[
{"s":"c","e":1,"v":970},{"s":"c","e":6,"v":1690},{"s":"c","e":11,"v":2460},{"s":"c","e":16,"v":2460},{"s":"c","e":21,"v":2375},{"s":"c","e":26,"v":2295},{"s":"c","e":31,"v":1930},{"s":"c","e":36,"v":1630},{"s":"c","e":41,"v":1300},{"s":"c","e":51,"v":1005},{"s":"c","e":61,"v":890},{"s":"c","e":71,"v":776},{"s":"c","e":81,"v":713},{"s":"c","e":91,"v":654},{"s":"c","e":96,"v":620},{"s":"c","e":101,"v":505},{"s":"c","e":106,"v":463},{"s":"c","e":111,"v":480},{"s":"c","e":126,"v":448},{"s":"c","e":151,"v":383},{"s":"c","e":176,"v":410},{"s":"c","e":201,"v":432},{"s":"c","e":226,"v":463},{"s":"c","e":251,"v":497},{"s":"c","e":256,"v":497},{"s":"c","e":266,"v":418},{"s":"c","e":281,"v":440},{"s":"c","e":291,"v":448},{"s":"c","e":301,"v":432},{"s":"c","e":311,"v":418},{"s":"c","e":321,"v":390},{"s":"c","e":341,"v":357},{"s":"c","e":361,"v":357},{"s":"c","e":376,"v":383},{"s":"c","e":386,"v":357},{"s":"c","e":396,"v":340},
{"s":"r","e":1,"v":1040},{"s":"r","e":6,"v":1850},{"s":"r","e":11,"v":2730},{"s":"r","e":16,"v":2730},{"s":"r","e":21,"v":2590},{"s":"r","e":26,"v":2500},{"s":"r","e":31,"v":2100},{"s":"r","e":36,"v":1780},{"s":"r","e":41,"v":1418},{"s":"r","e":51,"v":1096},{"s":"r","e":61,"v":970},{"s":"r","e":71,"v":845},{"s":"r","e":81,"v":776},{"s":"r","e":91,"v":713},{"s":"r","e":96,"v":688},{"s":"r","e":101,"v":550},{"s":"r","e":106,"v":520},{"s":"r","e":111,"v":531},{"s":"r","e":126,"v":488},{"s":"r","e":151,"v":425},{"s":"r","e":176,"v":471},{"s":"r","e":201,"v":505},{"s":"r","e":226,"v":560},{"s":"r","e":251,"v":600},{"s":"r","e":256,"v":610},{"s":"r","e":266,"v":513},{"s":"r","e":281,"v":541},{"s":"r","e":291,"v":560},{"s":"r","e":301,"v":522},{"s":"r","e":311,"v":522},{"s":"r","e":321,"v":488},{"s":"r","e":341,"v":463},{"s":"r","e":361,"v":480},{"s":"r","e":376,"v":522},{"s":"r","e":386,"v":463},{"s":"r","e":396,"v":480}
],
"vN2a":[
{"s":"c","e":1,"v":0.52},{"s":"c","e":4,"v":0.418},{"s":"c","e":6,"v":0.39},{"s":"c","e":8,"v":0.372},{"s":"c","e":11,"v":0.349},{"s":"c","e":16,"v":0.343},{"s":"c","e":21,"v":0.331},{"s":"c","e":26,"v":0.317},{"s":"c","e":31,"v":0.315},{"s":"c","e":36,"v":0.306},{"s":"c","e":41,"v":0.292},{"s":"c","e":44,"v":0.306},{"s":"c","e":46,"v":0.292},{"s":"c","e":51,"v":0.264},{"s":"c","e":56,"v":0.276},{"s":"c","e":61,"v":0.281},{"s":"c","e":66,"v":0.272},{"s":"c","e":71,"v":0.258},{"s":"c","e":76,"v":0.255},{"s":"c","e":81,"v":0.256},{"s":"c","e":86,"v":0.256},{"s":"c","e":91,"v":0.257},{"s":"c","e":96,"v":0.258},{"s":"c","e":101,"v":0.231},{"s":"c","e":106,"v":0.217},{"s":"c","e":111,"v":0.219},{"s":"c","e":116,"v":0.212},{"s":"c","e":121,"v":0.203},{"s":"c","e":126,"v":0.199},{"s":"c","e":131,"v":0.199},{"s":"c","e":141,"v":0.2},{"s":"c","e":146,"v":0.199},{"s":"c","e":151,"v":0.191},{"s":"c","e":161,"v":0.199},{"s":"c","e":171,"v":0.2},{"s":"c","e":181,"v":0.203},{"s":"c","e":201,"v":0.206},{"s":"c","e":221,"v":0.206},{"s":"c","e":241,"v":0.205},{"s":"c","e":251,"v":0.204},{"s":"c","e":256,"v":0.2},{"s":"c","e":261,"v":0.19},{"s":"c","e":266,"v":0.167},{"s":"c","e":281,"v":0.164},{"s":"c","e":291,"v":0.162},{"s":"c","e":301,"v":0.158},{"s":"c","e":311,"v":0.151},{"s":"c","e":321,"v":0.146},{"s":"c","e":331,"v":0.137},{"s":"c","e":341,"v":0.13},{"s":"c","e":346,"v":0.135},{"s":"c","e":356,"v":0.135},{"s":"c","e":366,"v":0.135},{"s":"c","e":376,"v":0.137},{"s":"c","e":381,"v":0.127},{"s":"c","e":386,"v":0.126},{"s":"c","e":396,"v":0.128},
{"s":"r","e":1,"v":0.535},{"s":"r","e":4,"v":0.42},{"s":"r","e":6,"v":0.393},{"s":"r","e":8,"v":0.375},{"s":"r","e":11,"v":0.354},{"s":"r","e":16,"v":0.346},{"s":"r","e":21,"v":0.334},{"s":"r","e":26,"v":0.322},{"s":"r","e":31,"v":0.318},{"s":"r","e":36,"v":0.309},{"s":"r","e":41,"v":0.295},{"s":"r","e":44,"v":0.309},{"s":"r","e":46,"v":0.295},{"s":"r","e":51,"v":0.267},{"s":"r","e":56,"v":0.279},{"s":"r","e":61,"v":0.285},{"s":"r","e":66,"v":0.276},{"s":"r","e":71,"v":0.262},{"s":"r","e":76,"v":0.26},{"s":"r","e":81,"v":0.261},{"s":"r","e":86,"v":0.26},{"s":"r","e":91,"v":0.261},{"s":"r","e":96,"v":0.262},{"s":"r","e":101,"v":0.236},{"s":"r","e":106,"v":0.22},{"s":"r","e":111,"v":0.222},{"s":"r","e":116,"v":0.215},{"s":"r","e":121,"v":0.205},{"s":"r","e":126,"v":0.201},{"s":"r","e":131,"v":0.201},{"s":"r","e":141,"v":0.202},{"s":"r","e":146,"v":0.201},{"s":"r","e":151,"v":0.194},{"s":"r","e":161,"v":0.2},{"s":"r","e":171,"v":0.203},{"s":"r","e":181,"v":0.206},{"s":"r","e":201,"v":0.21},{"s":"r","e":221,"v":0.214},{"s":"r","e":241,"v":0.214},{"s":"r","e":251,"v":0.212},{"s":"r","e":256,"v":0.21},{"s":"r","e":261,"v":0.199},{"s":"r","e":266,"v":0.18},{"s":"r","e":281,"v":0.179},{"s":"r","e":291,"v":0.176},{"s":"r","e":301,"v":0.171},{"s":"r","e":311,"v":0.167},{"s":"r","e":321,"v":0.162},{"s":"r","e":331,"v":0.153},{"s":"r","e":341,"v":0.146},{"s":"r","e":346,"v":0.151},{"s":"r","e":356,"v":0.148},{"s":"r","e":366,"v":0.153},{"s":"r","e":376,"v":0.155},{"s":"r","e":381,"v":0.142},{"s":"r","e":386,"v":0.139},{"s":"r","e":396,"v":0.147},
{"s":"k","e":1,"v":0.237},{"s":"k","e":4,"v":0.18},{"s":"k","e":6,"v":0.137},{"s":"k","e":11,"v":0.116},{"s":"k","e":16,"v":0.098},{"s":"k","e":21,"v":0.082},{"s":"k","e":26,"v":0.074},{"s":"k","e":31,"v":0.069},{"s":"k","e":36,"v":0.06},{"s":"k","e":41,"v":0.057},{"s":"k","e":46,"v":0.053},{"s":"k","e":51,"v":0.05},{"s":"k","e":61,"v":0.051},{"s":"k","e":71,"v":0.051},{"s":"k","e":81,"v":0.051},{"s":"k","e":91,"v":0.051},{"s":"k","e":101,"v":0.054},{"s":"k","e":106,"v":0.071},{"s":"k","e":111,"v":0.084},{"s":"k","e":116,"v":0.092},{"s":"k","e":121,"v":0.095},{"s":"k","e":131,"v":0.095},{"s":"k","e":141,"v":0.094},{"s":"k","e":151,"v":0.089},{"s":"k","e":161,"v":0.094},{"s":"k","e":181,"v":0.096},{"s":"k","e":201,"v":0.095},{"s":"k","e":221,"v":0.089},{"s":"k","e":241,"v":0.082},{"s":"k","e":251,"v":0.078},{"s":"k","e":261,"v":0.071},{"s":"k","e":271,"v":0.063},{"s":"k","e":281,"v":0.06},{"s":"k","e":291,"v":0.055},{"s":"k","e":301,"v":0.05},{"s":"k","e":311,"v":0.045},{"s":"k","e":321,"v":0.042},{"s":"k","e":331,"v":0.039},{"s":"k","e":341,"v":0.038},{"s":"k","e":361,"v":0.038},{"s":"k","e":396,"v":0.039}
],
"vN2b":[
{"s":"c","e":1,"v":0.36},{"s":"c","e":3,"v":0.304},{"s":"c","e":6,"v":0.266},{"s":"c","e":11,"v":0.251},{"s":"c","e":16,"v":0.236},{"s":"c","e":21,"v":0.231},{"s":"c","e":26,"v":0.225},{"s":"c","e":31,"v":0.219},{"s":"c","e":36,"v":0.213},{"s":"c","e":41,"v":0.199},{"s":"c","e":44,"v":0.207},{"s":"c","e":46,"v":0.202},{"s":"c","e":51,"v":0.191},{"s":"c","e":56,"v":0.188},{"s":"c","e":61,"v":0.191},{"s":"c","e":66,"v":0.182},{"s":"c","e":71,"v":0.184},{"s":"c","e":76,"v":0.171},{"s":"c","e":81,"v":0.179},{"s":"c","e":86,"v":0.181},{"s":"c","e":91,"v":0.173},{"s":"c","e":96,"v":0.177},{"s":"c","e":101,"v":0.146},{"s":"c","e":106,"v":0.14},{"s":"c","e":116,"v":0.14},{"s":"c","e":126,"v":0.141},{"s":"c","e":136,"v":0.14},{"s":"c","e":146,"v":0.137},{"s":"c","e":151,"v":0.137},{"s":"c","e":161,"v":0.14},{"s":"c","e":171,"v":0.142},{"s":"c","e":181,"v":0.145},{"s":"c","e":191,"v":0.147},{"s":"c","e":201,"v":0.152},{"s":"c","e":211,"v":0.155},{"s":"c","e":221,"v":0.159},{"s":"c","e":231,"v":0.163},{"s":"c","e":241,"v":0.165},{"s":"c","e":251,"v":0.167},{"s":"c","e":256,"v":0.166},{"s":"c","e":261,"v":0.158},{"s":"c","e":266,"v":0.132},{"s":"c","e":276,"v":0.135},{"s":"c","e":286,"v":0.137},{"s":"c","e":291,"v":0.133},{"s":"c","e":296,"v":0.137},{"s":"c","e":301,"v":0.135},{"s":"c","e":311,"v":0.13},{"s":"c","e":321,"v":0.127},{"s":"c","e":331,"v":0.126},{"s":"c","e":341,"v":0.121},{"s":"c","e":346,"v":0.126},{"s":"c","e":351,"v":0.121},{"s":"c","e":361,"v":0.123},{"s":"c","e":371,"v":0.124},{"s":"c","e":376,"v":0.126},{"s":"c","e":381,"v":0.118},{"s":"c","e":386,"v":0.12},{"s":"c","e":391,"v":0.12},
{"s":"r","e":1,"v":0.377},{"s":"r","e":3,"v":0.306},{"s":"r","e":6,"v":0.268},{"s":"r","e":11,"v":0.253},{"s":"r","e":16,"v":0.238},{"s":"r","e":21,"v":0.233},{"s":"r","e":26,"v":0.227},{"s":"r","e":31,"v":0.221},{"s":"r","e":36,"v":0.215},{"s":"r","e":41,"v":0.201},{"s":"r","e":44,"v":0.209},{"s":"r","e":46,"v":0.204},{"s":"r","e":51,"v":0.193},{"s":"r","e":56,"v":0.19},{"s":"r","e":61,"v":0.193},{"s":"r","e":66,"v":0.184},{"s":"r","e":71,"v":0.186},{"s":"r","e":76,"v":0.173},{"s":"r","e":81,"v":0.181},{"s":"r","e":86,"v":0.183},{"s":"r","e":91,"v":0.175},{"s":"r","e":96,"v":0.179},{"s":"r","e":101,"v":0.148},{"s":"r","e":106,"v":0.142},{"s":"r","e":116,"v":0.142},{"s":"r","e":126,"v":0.143},{"s":"r","e":136,"v":0.142},{"s":"r","e":146,"v":0.139},{"s":"r","e":151,"v":0.139},{"s":"r","e":161,"v":0.142},{"s":"r","e":171,"v":0.145},{"s":"r","e":181,"v":0.147},{"s":"r","e":191,"v":0.15},{"s":"r","e":201,"v":0.155},{"s":"r","e":211,"v":0.159},{"s":"r","e":221,"v":0.164},{"s":"r","e":231,"v":0.169},{"s":"r","e":241,"v":0.173},{"s":"r","e":251,"v":0.175},{"s":"r","e":256,"v":0.175},{"s":"r","e":261,"v":0.167},{"s":"r","e":266,"v":0.137},{"s":"r","e":276,"v":0.143},{"s":"r","e":286,"v":0.146},{"s":"r","e":291,"v":0.145},{"s":"r","e":296,"v":0.146},{"s":"r","e":301,"v":0.144},{"s":"r","e":311,"v":0.14},{"s":"r","e":321,"v":0.135},{"s":"r","e":331,"v":0.13},{"s":"r","e":341,"v":0.129},{"s":"r","e":346,"v":0.132},{"s":"r","e":351,"v":0.127},{"s":"r","e":361,"v":0.13},{"s":"r","e":371,"v":0.134},{"s":"r","e":376,"v":0.134},{"s":"r","e":381,"v":0.127},{"s":"r","e":386,"v":0.126},{"s":"r","e":391,"v":0.129},
{"s":"k","e":1,"v":0.219},{"s":"k","e":3,"v":0.188},{"s":"k","e":6,"v":0.146},{"s":"k","e":11,"v":0.123},{"s":"k","e":16,"v":0.11},{"s":"k","e":21,"v":0.103},{"s":"k","e":31,"v":0.092},{"s":"k","e":41,"v":0.085},{"s":"k","e":51,"v":0.079},{"s":"k","e":61,"v":0.075},{"s":"k","e":71,"v":0.0725},{"s":"k","e":81,"v":0.07},{"s":"k","e":91,"v":0.068},{"s":"k","e":101,"v":0.065},{"s":"k","e":111,"v":0.06},{"s":"k","e":121,"v":0.0567},{"s":"k","e":131,"v":0.054},{"s":"k","e":151,"v":0.052},{"s":"k","e":201,"v":0.049},{"s":"k","e":251,"v":0.047},{"s":"k","e":301,"v":0.0457},{"s":"k","e":391,"v":0.045}
],
"vN3":[
{"s":"c","e":1,"v":0.544,"l":0.519,"h":0.569},{"s":"c","e":6,"v":0.46,"l":0.448,"h":0.472},{"s":"c","e":11,"v":0.501,"l":0.489,"h":0.513},{"s":"c","e":16,"v":0.496,"l":0.484,"h":0.508},{"s":"c","e":21,"v":0.499,"l":0.487,"h":0.511},{"s":"c","e":26,"v":0.494,"l":0.482,"h":0.506},{"s":"c","e":31,"v":0.492,"l":0.48,"h":0.504},{"s":"c","e":36,"v":0.477,"l":0.465,"h":0.489},{"s":"c","e":41,"v":0.494,"l":0.482,"h":0.506},{"s":"c","e":46,"v":0.475,"l":0.463,"h":0.487},{"s":"c","e":51,"v":0.456,"l":0.444,"h":0.468},{"s":"c","e":56,"v":0.465,"l":0.453,"h":0.477},{"s":"c","e":61,"v":0.467,"l":0.455,"h":0.479},{"s":"c","e":66,"v":0.453,"l":0.441,"h":0.465},{"s":"c","e":71,"v":0.448,"l":0.436,"h":0.46},{"s":"c","e":76,"v":0.432,"l":0.42,"h":0.444},{"s":"c","e":81,"v":0.453,"l":0.441,"h":0.465},{"s":"c","e":86,"v":0.451,"l":0.439,"h":0.463},{"s":"c","e":91,"v":0.441,"l":0.429,"h":0.453},{"s":"c","e":96,"v":0.443,"l":0.431,"h":0.455},{"s":"c","e":101,"v":0.348,"l":0.341,"h":0.355},{"s":"c","e":106,"v":0.353,"l":0.346,"h":0.36},{"s":"c","e":111,"v":0.386,"l":0.379,"h":0.393},{"s":"c","e":116,"v":0.401,"l":0.394,"h":0.408},{"s":"c","e":121,"v":0.404,"l":0.397,"h":0.411},{"s":"c","e":126,"v":0.405,"l":0.398,"h":0.412},{"s":"c","e":131,"v":0.409,"l":0.402,"h":0.416},{"s":"c","e":136,"v":0.415,"l":0.408,"h":0.422},{"s":"c","e":141,"v":0.411,"l":0.404,"h":0.418},{"s":"c","e":146,"v":0.41,"l":0.403,"h":0.417},{"s":"c","e":151,"v":0.386,"l":0.373,"h":0.399},{"s":"c","e":161,"v":0.384,"l":0.371,"h":0.397},{"s":"c","e":171,"v":0.386,"l":0.373,"h":0.399},{"s":"c","e":181,"v":0.393,"l":0.38,"h":0.406},{"s":"c","e":191,"v":0.401,"l":0.388,"h":0.414},{"s":"c","e":201,"v":0.41,"l":0.397,"h":0.423},{"s":"c","e":211,"v":0.422,"l":0.409,"h":0.435},{"s":"c","e":221,"v":0.436,"l":0.423,"h":0.449},{"s":"c","e":231,"v":0.448,"l":0.435,"h":0.461},{"s":"c","e":241,"v":0.456,"l":0.443,"h":0.469},{"s":"c","e":251,"v":0.46,"l":0.447,"h":0.473},{"s":"c","e":256,"v":0.46,"l":0.447,"h":0.473},{"s":"c","e":261,"v":0.434,"l":0.421,"h":0.447},{"s":"c","e":266,"v":0.381,"l":0.365,"h":0.397},{"s":"c","e":271,"v":0.379,"l":0.363,"h":0.395},{"s":"c","e":276,"v":0.382,"l":0.366,"h":0.398},{"s":"c","e":281,"v":0.385,"l":0.369,"h":0.401},{"s":"c","e":286,"v":0.386,"l":0.37,"h":0.402},{"s":"c","e":291,"v":0.39,"l":0.374,"h":0.406},{"s":"c","e":296,"v":0.379,"l":0.363,"h":0.395},{"s":"c","e":301,"v":0.38,"l":0.364,"h":0.396},{"s":"c","e":306,"v":0.373,"l":0.357,"h":0.389},{"s":"c","e":311,"v":0.368,"l":0.352,"h":0.384},{"s":"c","e":316,"v":0.362,"l":0.346,"h":0.378},{"s":"c","e":321,"v":0.36,"l":0.344,"h":0.376},{"s":"c","e":326,"v":0.353,"l":0.337,"h":0.369},{"s":"c","e":331,"v":0.343,"l":0.327,"h":0.359},{"s":"c","e":341,"v":0.334,"l":0.318,"h":0.35},{"s":"c","e":346,"v":0.336,"l":0.32,"h":0.352},{"s":"c","e":356,"v":0.334,"l":0.318,"h":0.35},{"s":"c","e":366,"v":0.334,"l":0.318,"h":0.35},{"s":"c","e":376,"v":0.341,"l":0.325,"h":0.357},{"s":"c","e":381,"v":0.336,"l":0.32,"h":0.352},{"s":"c","e":386,"v":0.329,"l":0.313,"h":0.345},{"s":"c","e":391,"v":0.33,"l":0.314,"h":0.346},{"s":"c","e":396,"v":0.331,"l":0.315,"h":0.347},
{"s":"r","e":1,"v":0.544,"l":0.519,"h":0.569},{"s":"r","e":6,"v":0.468,"l":0.453,"h":0.483},{"s":"r","e":11,"v":0.504,"l":0.489,"h":0.519},{"s":"r","e":16,"v":0.499,"l":0.484,"h":0.514},{"s":"r","e":21,"v":0.501,"l":0.486,"h":0.516},{"s":"r","e":26,"v":0.496,"l":0.481,"h":0.511},{"s":"r","e":31,"v":0.494,"l":0.479,"h":0.509},{"s":"r","e":36,"v":0.482,"l":0.467,"h":0.497},{"s":"r","e":41,"v":0.501,"l":0.486,"h":0.516},{"s":"r","e":46,"v":0.48,"l":0.465,"h":0.495},{"s":"r","e":51,"v":0.468,"l":0.453,"h":0.483},{"s":"r","e":56,"v":0.472,"l":0.457,"h":0.487},{"s":"r","e":61,"v":0.475,"l":0.46,"h":0.49},{"s":"r","e":66,"v":0.463,"l":0.448,"h":0.478},{"s":"r","e":71,"v":0.458,"l":0.443,"h":0.473},{"s":"r","e":76,"v":0.445,"l":0.43,"h":0.46},{"s":"r","e":81,"v":0.463,"l":0.448,"h":0.478},{"s":"r","e":86,"v":0.46,"l":0.445,"h":0.475},{"s":"r","e":91,"v":0.456,"l":0.441,"h":0.471},{"s":"r","e":96,"v":0.458,"l":0.443,"h":0.473},{"s":"r","e":101,"v":0.357,"l":0.35,"h":0.364},{"s":"r","e":106,"v":0.362,"l":0.355,"h":0.369},{"s":"r","e":111,"v":0.389,"l":0.382,"h":0.396},{"s":"r","e":116,"v":0.403,"l":0.396,"h":0.41},{"s":"r","e":121,"v":0.405,"l":0.398,"h":0.412},{"s":"r","e":126,"v":0.406,"l":0.399,"h":0.413},{"s":"r","e":131,"v":0.41,"l":0.403,"h":0.417},{"s":"r","e":136,"v":0.416,"l":0.409,"h":0.423},{"s":"r","e":141,"v":0.413,"l":0.406,"h":0.42},{"s":"r","e":146,"v":0.411,"l":0.404,"h":0.418},{"s":"r","e":151,"v":0.389,"l":0.378,"h":0.4},{"s":"r","e":161,"v":0.386,"l":0.375,"h":0.397},{"s":"r","e":171,"v":0.392,"l":0.381,"h":0.403},{"s":"r","e":181,"v":0.4,"l":0.389,"h":0.411},{"s":"r","e":191,"v":0.408,"l":0.397,"h":0.419},{"s":"r","e":201,"v":0.423,"l":0.412,"h":0.434},{"s":"r","e":211,"v":0.44,"l":0.425,"h":0.455},{"s":"r","e":221,"v":0.458,"l":0.443,"h":0.473},{"s":"r","e":231,"v":0.474,"l":0.459,"h":0.489},{"s":"r","e":241,"v":0.487,"l":0.472,"h":0.502},{"s":"r","e":251,"v":0.493,"l":0.478,"h":0.508},{"s":"r","e":256,"v":0.495,"l":0.48,"h":0.51},{"s":"r","e":261,"v":0.47,"l":0.455,"h":0.485},{"s":"r","e":266,"v":0.401,"l":0.381,"h":0.421},{"s":"r","e":271,"v":0.404,"l":0.384,"h":0.424},{"s":"r","e":276,"v":0.413,"l":0.393,"h":0.433},{"s":"r","e":281,"v":0.414,"l":0.394,"h":0.434},{"s":"r","e":286,"v":0.415,"l":0.395,"h":0.435},{"s":"r","e":291,"v":0.421,"l":0.401,"h":0.441},{"s":"r","e":296,"v":0.408,"l":0.388,"h":0.428},{"s":"r","e":301,"v":0.411,"l":0.391,"h":0.431},{"s":"r","e":306,"v":0.406,"l":0.386,"h":0.426},{"s":"r","e":311,"v":0.396,"l":0.376,"h":0.416},{"s":"r","e":316,"v":0.391,"l":0.371,"h":0.411},{"s":"r","e":321,"v":0.386,"l":0.366,"h":0.406},{"s":"r","e":326,"v":0.372,"l":0.352,"h":0.392},{"s":"r","e":331,"v":0.367,"l":0.347,"h":0.387},{"s":"r","e":341,"v":0.357,"l":0.337,"h":0.377},{"s":"r","e":346,"v":0.365,"l":0.345,"h":0.385},{"s":"r","e":356,"v":0.36,"l":0.34,"h":0.38},{"s":"r","e":366,"v":0.365,"l":0.345,"h":0.385},{"s":"r","e":376,"v":0.372,"l":0.352,"h":0.392},{"s":"r","e":381,"v":0.362,"l":0.342,"h":0.382},{"s":"r","e":386,"v":0.35,"l":0.33,"h":0.37},{"s":"r","e":391,"v":0.35,"l":0.33,"h":0.37},{"s":"r","e":396,"v":0.356,"l":0.336,"h":0.376}
],
"vN4":[
{"s":"c","e":1,"v":0.62,"l":0.56,"h":0.68},{"s":"c","e":6,"v":0.514,"l":0.494,"h":0.534},{"s":"c","e":11,"v":0.502,"l":0.482,"h":0.522},{"s":"c","e":13,"v":0.497,"l":0.477,"h":0.517},{"s":"c","e":16,"v":0.438,"l":0.428,"h":0.448},{"s":"c","e":21,"v":0.436,"l":0.426,"h":0.446},{"s":"c","e":26,"v":0.436,"l":0.426,"h":0.446},{"s":"c","e":31,"v":0.421,"l":0.411,"h":0.431},{"s":"c","e":36,"v":0.429,"l":0.419,"h":0.439},{"s":"c","e":41,"v":0.398,"l":0.388,"h":0.408},{"s":"c","e":46,"v":0.38,"l":0.37,"h":0.39},{"s":"c","e":51,"v":0.363,"l":0.353,"h":0.373},{"s":"c","e":56,"v":0.357,"l":0.347,"h":0.367},{"s":"c","e":61,"v":0.345,"l":0.335,"h":0.355},{"s":"c","e":66,"v":0.348,"l":0.338,"h":0.358},{"s":"c","e":71,"v":0.348,"l":0.338,"h":0.358},{"s":"c","e":76,"v":0.316,"l":0.306,"h":0.326},{"s":"c","e":81,"v":0.34,"l":0.33,"h":0.35},{"s":"c","e":86,"v":0.316,"l":0.306,"h":0.326},{"s":"c","e":91,"v":0.308,"l":0.298,"h":0.318},{"s":"c","e":96,"v":0.295,"l":0.285,"h":0.305},{"s":"c","e":101,"v":0.183,"l":0.173,"h":0.193},{"s":"c","e":106,"v":0.165,"l":0.155,"h":0.175},{"s":"c","e":111,"v":0.194,"l":0.184,"h":0.204},{"s":"c","e":116,"v":0.194,"l":0.184,"h":0.204},{"s":"c","e":121,"v":0.192,"l":0.182,"h":0.202},{"s":"c","e":126,"v":0.188,"l":0.178,"h":0.198},{"s":"c","e":131,"v":0.194,"l":0.184,"h":0.204},{"s":"c","e":136,"v":0.212,"l":0.202,"h":0.222},{"s":"c","e":141,"v":0.192,"l":0.182,"h":0.202},{"s":"c","e":146,"v":0.192,"l":0.182,"h":0.202},{"s":"c","e":151,"v":0.194,"l":0.184,"h":0.204},{"s":"c","e":161,"v":0.203,"l":0.193,"h":0.213},{"s":"c","e":171,"v":0.212,"l":0.202,"h":0.222},{"s":"c","e":181,"v":0.22,"l":0.21,"h":0.23},{"s":"c","e":191,"v":0.229,"l":0.219,"h":0.239},{"s":"c","e":201,"v":0.241,"l":0.231,"h":0.251},{"s":"c","e":211,"v":0.252,"l":0.242,"h":0.262},{"s":"c","e":221,"v":0.266,"l":0.256,"h":0.276},{"s":"c","e":231,"v":0.281,"l":0.271,"h":0.291},{"s":"c","e":241,"v":0.293,"l":0.283,"h":0.303},{"s":"c","e":251,"v":0.299,"l":0.289,"h":0.309},{"s":"c","e":256,"v":0.301,"l":0.291,"h":0.311},{"s":"c","e":261,"v":0.241,"l":0.226,"h":0.256},{"s":"c","e":266,"v":0.177,"l":0.162,"h":0.192},{"s":"c","e":271,"v":0.179,"l":0.164,"h":0.194},{"s":"c","e":276,"v":0.183,"l":0.168,"h":0.198},{"s":"c","e":281,"v":0.185,"l":0.17,"h":0.2},{"s":"c","e":286,"v":0.183,"l":0.168,"h":0.198},{"s":"c","e":291,"v":0.194,"l":0.179,"h":0.209},{"s":"c","e":296,"v":0.171,"l":0.156,"h":0.186},{"s":"c","e":301,"v":0.177,"l":0.162,"h":0.192},{"s":"c","e":306,"v":0.173,"l":0.158,"h":0.188},{"s":"c","e":311,"v":0.159,"l":0.144,"h":0.174},{"s":"c","e":316,"v":0.153,"l":0.138,"h":0.168},{"s":"c","e":321,"v":0.136,"l":0.121,"h":0.151},{"s":"c","e":326,"v":0.101,"l":0.086,"h":0.116},{"s":"c","e":331,"v":0.09,"l":0.075,"h":0.105},{"s":"c","e":336,"v":0.08,"l":0.065,"h":0.095},{"s":"c","e":341,"v":0.078,"l":0.063,"h":0.093},{"s":"c","e":346,"v":0.08,"l":0.065,"h":0.095},{"s":"c","e":351,"v":0.072,"l":0.057,"h":0.087},{"s":"c","e":356,"v":0.072,"l":0.057,"h":0.087},{"s":"c","e":361,"v":0.074,"l":0.059,"h":0.089},{"s":"c","e":371,"v":0.076,"l":0.061,"h":0.091},{"s":"c","e":376,"v":0.078,"l":0.063,"h":0.093},{"s":"c","e":381,"v":0.064,"l":0.049,"h":0.079},{"s":"c","e":386,"v":0.057,"l":0.042,"h":0.072},{"s":"c","e":391,"v":0.057,"l":0.042,"h":0.072},{"s":"c","e":396,"v":0.064,"l":0.049,"h":0.079},
{"s":"r","e":1,"v":0.62,"l":0.56,"h":0.68},{"s":"r","e":6,"v":0.51,"l":0.49,"h":0.53},{"s":"r","e":11,"v":0.5,"l":0.48,"h":0.52},{"s":"r","e":13,"v":0.497,"l":0.477,"h":0.517},{"s":"r","e":16,"v":0.44,"l":0.428,"h":0.452},{"s":"r","e":21,"v":0.438,"l":0.426,"h":0.45},{"s":"r","e":26,"v":0.438,"l":0.426,"h":0.45},{"s":"r","e":31,"v":0.423,"l":0.411,"h":0.435},{"s":"r","e":36,"v":0.431,"l":0.419,"h":0.443},{"s":"r","e":41,"v":0.403,"l":0.391,"h":0.415},{"s":"r","e":46,"v":0.386,"l":0.374,"h":0.398},{"s":"r","e":51,"v":0.369,"l":0.357,"h":0.381},{"s":"r","e":56,"v":0.363,"l":0.351,"h":0.375},{"s":"r","e":61,"v":0.357,"l":0.345,"h":0.369},{"s":"r","e":66,"v":0.363,"l":0.351,"h":0.375},{"s":"r","e":71,"v":0.366,"l":0.354,"h":0.378},{"s":"r","e":76,"v":0.34,"l":0.328,"h":0.352},{"s":"r","e":81,"v":0.363,"l":0.351,"h":0.375},{"s":"r","e":86,"v":0.34,"l":0.328,"h":0.352},{"s":"r","e":91,"v":0.334,"l":0.322,"h":0.346},{"s":"r","e":96,"v":0.328,"l":0.316,"h":0.34},{"s":"r","e":101,"v":0.223,"l":0.211,"h":0.235},{"s":"r","e":106,"v":0.194,"l":0.182,"h":0.206},{"s":"r","e":111,"v":0.223,"l":0.211,"h":0.235},{"s":"r","e":116,"v":0.215,"l":0.203,"h":0.227},{"s":"r","e":121,"v":0.217,"l":0.205,"h":0.229},{"s":"r","e":126,"v":0.208,"l":0.196,"h":0.22},{"s":"r","e":131,"v":0.22,"l":0.208,"h":0.232},{"s":"r","e":136,"v":0.235,"l":0.223,"h":0.247},{"s":"r","e":141,"v":0.208,"l":0.196,"h":0.22},{"s":"r","e":146,"v":0.212,"l":0.2,"h":0.224},{"s":"r","e":151,"v":0.229,"l":0.217,"h":0.241},{"s":"r","e":161,"v":0.241,"l":0.229,"h":0.253},{"s":"r","e":171,"v":0.255,"l":0.243,"h":0.267},{"s":"r","e":181,"v":0.264,"l":0.252,"h":0.276},{"s":"r","e":191,"v":0.276,"l":0.264,"h":0.288},{"s":"r","e":201,"v":0.287,"l":0.275,"h":0.299},{"s":"r","e":211,"v":0.305,"l":0.293,"h":0.317},{"s":"r","e":221,"v":0.32,"l":0.308,"h":0.332},{"s":"r","e":231,"v":0.34,"l":0.328,"h":0.352},{"s":"r","e":241,"v":0.357,"l":0.345,"h":0.369},{"s":"r","e":251,"v":0.366,"l":0.354,"h":0.378},{"s":"r","e":256,"v":0.369,"l":0.357,"h":0.381},{"s":"r","e":261,"v":0.299,"l":0.274,"h":0.324},{"s":"r","e":266,"v":0.241,"l":0.216,"h":0.266},{"s":"r","e":271,"v":0.247,"l":0.222,"h":0.272},{"s":"r","e":276,"v":0.255,"l":0.23,"h":0.28},{"s":"r","e":281,"v":0.258,"l":0.233,"h":0.283},{"s":"r","e":286,"v":0.255,"l":0.23,"h":0.28},{"s":"r","e":291,"v":0.27,"l":0.245,"h":0.295},{"s":"r","e":296,"v":0.241,"l":0.216,"h":0.266},{"s":"r","e":301,"v":0.249,"l":0.224,"h":0.274},{"s":"r","e":306,"v":0.241,"l":0.216,"h":0.266},{"s":"r","e":311,"v":0.229,"l":0.204,"h":0.254},{"s":"r","e":316,"v":0.223,"l":0.198,"h":0.248},{"s":"r","e":321,"v":0.188,"l":0.163,"h":0.213},{"s":"r","e":326,"v":0.159,"l":0.134,"h":0.184},{"s":"r","e":331,"v":0.148,"l":0.123,"h":0.173},{"s":"r","e":336,"v":0.138,"l":0.113,"h":0.163},{"s":"r","e":341,"v":0.134,"l":0.109,"h":0.159},{"s":"r","e":346,"v":0.145,"l":0.12,"h":0.17},{"s":"r","e":351,"v":0.136,"l":0.111,"h":0.161},{"s":"r","e":356,"v":0.13,"l":0.105,"h":0.155},{"s":"r","e":361,"v":0.145,"l":0.12,"h":0.17},{"s":"r","e":371,"v":0.153,"l":0.128,"h":0.178},{"s":"r","e":376,"v":0.157,"l":0.132,"h":0.182},{"s":"r","e":381,"v":0.136,"l":0.111,"h":0.161},{"s":"r","e":386,"v":0.107,"l":0.082,"h":0.132},{"s":"r","e":391,"v":0.107,"l":0.082,"h":0.132},{"s":"r","e":396,"v":0.115,"l":0.09,"h":0.14}
]
},
"concat":[
{"width":322,"height":202,"data":{"name":"rL"},
"encoding":{"x":{"field":"e","type":"quantitative","scale":{"domain":[-18.25,411],"nice":false,"zero":false},"axis":{"title":"epoch","values":[0,50,100,150,200,250,300,350,400],"grid":false}}},
"layer":[
{"transform":[{"filter":{"field":"s","oneOf":["a","b"]}}],"mark":{"type":"line","strokeWidth":1.3},
"encoding":{"y":{"field":"v","type":"quantitative","scale":{"domain":[-0.21,4.48],"nice":false,"zero":false},"axis":{"title":"Loss","values":[0,1,2,3,4],"format":"d","grid":false}},
"stroke":{"field":"s","type":"nominal","scale":{"domain":["a","b","c","d"],"range":["#0000ff","#ffa500","#008000","#ff0000"]},"legend":{"orient":"none","legendX":137,"legendY":38,"title":null,"symbolType":"stroke","symbolSize":900,"symbolStrokeWidth":1.5,"labelFontSize":16,"labelOffset":13,"rowPadding":0,"padding":6,"strokeColor":"#cccccc","fillColor":"#ffffff","cornerRadius":3,"labelColor":"#000000","labelLimit":300,"labelExpr":"datum.label=='a'?'clean CE loss':datum.label=='b'?'KLD loss':datum.label=='c'?'train accuracy':['KLD-perturbed','train accuracy']"}}}},
{"transform":[{"filter":{"field":"s","oneOf":["c","d"]}}],"mark":{"type":"line","strokeWidth":1.3},
"encoding":{"y":{"field":"v","type":"quantitative","scale":{"domain":[0,1.048],"nice":false,"zero":false},"axis":{"title":"Accuracy","orient":"right","values":[0.2,0.4,0.6,0.8,1.0],"format":".1f","grid":false,"titleAngle":-90,"titleBaseline":"top","titlePadding":2}},
"stroke":{"field":"s","type":"nominal","scale":{"domain":["a","b","c","d"],"range":["#0000ff","#ffa500","#008000","#ff0000"]},"legend":{"orient":"none","legendX":137,"legendY":38,"title":null,"symbolType":"stroke","symbolSize":900,"symbolStrokeWidth":1.5,"labelFontSize":16,"labelOffset":13,"rowPadding":0,"padding":6,"strokeColor":"#cccccc","fillColor":"#ffffff","cornerRadius":3,"labelColor":"#000000","labelLimit":300,"labelExpr":"datum.label=='a'?'clean CE loss':datum.label=='b'?'KLD loss':datum.label=='c'?'train accuracy':['KLD-perturbed','train accuracy']"}}}}
],
"resolve":{"scale":{"y":"independent"}}},
{"width":322,"height":202,"data":{"name":"rN1"},
"title":{"text":"ResNet18, TRADES","fontSize":40,"fontWeight":"normal","anchor":"middle","frame":"group","dx":-24,"offset":-27,"baseline":"alphabetic","color":"#000000"},
"mark":{"type":"line","strokeWidth":1.3},
"encoding":{"x":{"field":"e","type":"quantitative","scale":{"domain":[-18.75,415.75],"nice":false,"zero":false},"axis":{"title":"epoch","values":[0,50,100,150,200,250,300,350,400],"grid":true}},
"y":{"field":"v","type":"quantitative","scale":{"type":"log","domain":[0.1,5600],"nice":false},"axis":{"title":"NC1","values":[0.1,1,10,100],"grid":true,"labelExpr":"datum.value<0.5?'10⁻¹':datum.value<5?'10⁰':datum.value<50?'10¹':'10²'"}},
"color":{"field":"s","type":"nominal","scale":{"domain":["c","r","k"],"range":["#0000ff","#ffa500","#000000"]},"legend":{"orient":"none","legendX":199,"legendY":988,"direction":"horizontal","title":null,"symbolType":"stroke","symbolSize":2500,"symbolStrokeWidth":1.5,"labelFontSize":24,"labelOffset":15,"columnPadding":50,"padding":9,"clipHeight":26,"strokeColor":"#cccccc","fillColor":"#ffffff","cornerRadius":4,"labelColor":"#000000","labelLimit":400,"labelExpr":"datum.label=='c'?'clean':datum.label=='r'?'robust (perturbed)':'classifier'"}}}},
{"width":322,"height":202,"data":{"name":"rN2a"},
"mark":{"type":"line","strokeWidth":1.3},
"encoding":{"x":{"field":"e","type":"quantitative","scale":{"domain":[-18.75,415.75],"nice":false,"zero":false},"axis":{"title":"epoch","values":[0,50,100,150,200,250,300,350,400],"grid":true}},
"y":{"field":"v","type":"quantitative","scale":{"domain":[0.0335,0.5505],"nice":false,"zero":false},"axis":{"title":"NC2, Equinorm","values":[0.1,0.2,0.3,0.4,0.5],"format":".1f","grid":true}},
"color":{"field":"s","type":"nominal","scale":{"domain":["c","r","k"],"range":["#0000ff","#ffa500","#000000"]}}}},
{"width":322,"height":202,"data":{"name":"rN2b"},
"mark":{"type":"line","strokeWidth":1.3},
"encoding":{"x":{"field":"e","type":"quantitative","scale":{"domain":[-18.25,411],"nice":false,"zero":false},"axis":{"title":"epoch","values":[0,50,100,150,200,250,300,350,400],"grid":true}},
"y":{"field":"v","type":"quantitative","scale":{"domain":[0.0125,0.428],"nice":false,"zero":false},"axis":{"title":"NC2, Equiangular","values":[0.05,0.1,0.15,0.2,0.25,0.3,0.35,0.4],"format":".2f","grid":true}},
"color":{"field":"s","type":"nominal","scale":{"domain":["c","r","k"],"range":["#0000ff","#ffa500","#000000"]}}}},
{"width":322,"height":202,"data":{"name":"rN3"},
"encoding":{"x":{"field":"e","type":"quantitative","scale":{"domain":[-18.75,415.75],"nice":false,"zero":false},"axis":{"title":"epoch","values":[0,50,100,150,200,250,300,350,400],"grid":true}}},
"layer":[
{"mark":{"type":"area","fillOpacity":0.45},"encoding":{"y":{"field":"l","type":"quantitative","scale":{"domain":[0.5665,0.837],"nice":false,"zero":false},"axis":{"title":"NC3","values":[0.6,0.65,0.7,0.75,0.8],"format":".2f","grid":true}},"y2":{"field":"h"},"fill":{"field":"s","type":"nominal","scale":{"domain":["c","r","k"],"range":["#0000ff","#ffa500","#000000"]},"legend":null}}},
{"mark":{"type":"line","strokeWidth":1.3},"encoding":{"y":{"field":"v","type":"quantitative","scale":{"domain":[0.5665,0.837],"nice":false,"zero":false},"axis":{"title":"NC3","values":[0.6,0.65,0.7,0.75,0.8],"format":".2f","grid":true}},"color":{"field":"s","type":"nominal","scale":{"domain":["c","r","k"],"range":["#0000ff","#ffa500","#000000"]}}}}
]},
{"width":322,"height":202,"data":{"name":"rN4"},
"encoding":{"x":{"field":"e","type":"quantitative","scale":{"domain":[-18.75,415.75],"nice":false,"zero":false},"axis":{"title":"epoch","values":[0,50,100,150,200,250,300,350,400],"grid":true}}},
"layer":[
{"mark":{"type":"area","fillOpacity":0.45},"encoding":{"y":{"field":"l","type":"quantitative","scale":{"domain":[0.2935,0.7465],"nice":false,"zero":false},"axis":{"title":"NC4","values":[0.3,0.4,0.5,0.6,0.7],"format":".1f","grid":true}},"y2":{"field":"h"},"fill":{"field":"s","type":"nominal","scale":{"domain":["c","r","k"],"range":["#0000ff","#ffa500","#000000"]},"legend":null}}},
{"mark":{"type":"line","strokeWidth":1.3},"encoding":{"y":{"field":"v","type":"quantitative","scale":{"domain":[0.2935,0.7465],"nice":false,"zero":false},"axis":{"title":"NC4","values":[0.3,0.4,0.5,0.6,0.7],"format":".1f","grid":true}},"color":{"field":"s","type":"nominal","scale":{"domain":["c","r","k"],"range":["#0000ff","#ffa500","#000000"]}}}}
]},
{"width":322,"height":19,"data":{"values":[]},"mark":{"type":"point"},"encoding":{},"view":{"stroke":null}},
{"width":322,"height":19,"data":{"values":[]},"mark":{"type":"point"},"encoding":{},"view":{"stroke":null}},
{"width":322,"height":19,"data":{"values":[]},"mark":{"type":"point"},"encoding":{},"view":{"stroke":null}},
{"width":322,"height":202,"data":{"name":"vL"},
"encoding":{"x":{"field":"e","type":"quantitative","scale":{"domain":[-18.25,411],"nice":false,"zero":false},"axis":{"title":"epoch","values":[0,50,100,150,200,250,300,350,400],"grid":false}}},
"layer":[
{"transform":[{"filter":{"field":"s","oneOf":["a","b"]}}],"mark":{"type":"line","strokeWidth":1.3},
"encoding":{"y":{"field":"v","type":"quantitative","scale":{"domain":[-0.21,4.44],"nice":false,"zero":false},"axis":{"title":"Loss","values":[0,1,2,3,4],"format":"d","grid":false}},
"stroke":{"field":"s","type":"nominal","scale":{"domain":["a","b","c","d"],"range":["#0000ff","#ffa500","#008000","#ff0000"]},"legend":{"orient":"none","legendX":137,"legendY":37,"title":null,"symbolType":"stroke","symbolSize":900,"symbolStrokeWidth":1.5,"labelFontSize":16,"labelOffset":13,"rowPadding":0,"padding":6,"strokeColor":"#cccccc","fillColor":"#ffffff","cornerRadius":3,"labelColor":"#000000","labelLimit":300,"labelExpr":"datum.label=='a'?'clean CE loss':datum.label=='b'?'KLD loss':datum.label=='c'?'train accuracy':['KLD-perturbed','train accuracy']"}}}},
{"transform":[{"filter":{"field":"s","oneOf":["c","d"]}}],"mark":{"type":"line","strokeWidth":1.3},
"encoding":{"y":{"field":"v","type":"quantitative","scale":{"domain":[0.004,1.047],"nice":false,"zero":false},"axis":{"title":"Accuracy","orient":"right","values":[0.2,0.4,0.6,0.8,1.0],"format":".1f","grid":false,"titleAngle":-90,"titleBaseline":"top","titlePadding":2}},
"stroke":{"field":"s","type":"nominal","scale":{"domain":["a","b","c","d"],"range":["#0000ff","#ffa500","#008000","#ff0000"]},"legend":{"orient":"none","legendX":137,"legendY":37,"title":null,"symbolType":"stroke","symbolSize":900,"symbolStrokeWidth":1.5,"labelFontSize":16,"labelOffset":13,"rowPadding":0,"padding":6,"strokeColor":"#cccccc","fillColor":"#ffffff","cornerRadius":3,"labelColor":"#000000","labelLimit":300,"labelExpr":"datum.label=='a'?'clean CE loss':datum.label=='b'?'KLD loss':datum.label=='c'?'train accuracy':['KLD-perturbed','train accuracy']"}}}}
],
"resolve":{"scale":{"y":"independent"}}},
{"width":322,"height":202,"data":{"name":"vN1"},
"title":{"text":"VGG11, TRADES","fontSize":40,"fontWeight":"normal","anchor":"middle","frame":"group","dx":-24,"offset":-26,"baseline":"alphabetic","color":"#000000"},
"mark":{"type":"line","strokeWidth":1.3},
"encoding":{"x":{"field":"e","type":"quantitative","scale":{"domain":[-18.75,415.75],"nice":false,"zero":false},"axis":{"title":"epoch","values":[0,50,100,150,200,250,300,350,400],"grid":true}},
"y":{"field":"v","type":"quantitative","scale":{"type":"log","domain":[0.1,3240],"nice":false},"axis":{"title":"NC1","values":[0.1,1,10,100],"grid":true,"labelExpr":"datum.value<0.5?'10⁻¹':datum.value<5?'10⁰':datum.value<50?'10¹':'10²'"}},
"color":{"field":"s","type":"nominal","scale":{"domain":["c","r","k"],"range":["#0000ff","#ffa500","#000000"]}}}},
{"width":322,"height":202,"data":{"name":"vN2a"},
"mark":{"type":"line","strokeWidth":1.3},
"encoding":{"x":{"field":"e","type":"quantitative","scale":{"domain":[-18.75,415.75],"nice":false,"zero":false},"axis":{"title":"epoch","values":[0,50,100,150,200,250,300,350,400],"grid":true}},
"y":{"field":"v","type":"quantitative","scale":{"domain":[0.012,0.562],"nice":false,"zero":false},"axis":{"title":"NC2, Equinorm","values":[0.1,0.2,0.3,0.4,0.5],"format":".1f","grid":true}},
"color":{"field":"s","type":"nominal","scale":{"domain":["c","r","k"],"range":["#0000ff","#ffa500","#000000"]}}}},
{"width":322,"height":202,"data":{"name":"vN2b"},
"mark":{"type":"line","strokeWidth":1.3},
"encoding":{"x":{"field":"e","type":"quantitative","scale":{"domain":[-18.25,411],"nice":false,"zero":false},"axis":{"title":"epoch","values":[0,50,100,150,200,250,300,350,400],"grid":true}},
"y":{"field":"v","type":"quantitative","scale":{"domain":[0.027,0.3955],"nice":false,"zero":false},"axis":{"title":"NC2, Equiangular","values":[0.05,0.1,0.15,0.2,0.25,0.3,0.35],"format":".2f","grid":true}},
"color":{"field":"s","type":"nominal","scale":{"domain":["c","r","k"],"range":["#0000ff","#ffa500","#000000"]}}}},
{"width":322,"height":202,"data":{"name":"vN3"},
"encoding":{"x":{"field":"e","type":"quantitative","scale":{"domain":[-18.75,415.75],"nice":false,"zero":false},"axis":{"title":"epoch","values":[0,50,100,150,200,250,300,350,400],"grid":true}}},
"layer":[
{"mark":{"type":"area","fillOpacity":0.45},"encoding":{"y":{"field":"l","type":"quantitative","scale":{"domain":[0.2975,0.5865],"nice":false,"zero":false},"axis":{"title":"NC3","values":[0.3,0.35,0.4,0.45,0.5,0.55],"format":".2f","grid":true}},"y2":{"field":"h"},"fill":{"field":"s","type":"nominal","scale":{"domain":["c","r","k"],"range":["#0000ff","#ffa500","#000000"]},"legend":null}}},
{"mark":{"type":"line","strokeWidth":1.3},"encoding":{"y":{"field":"v","type":"quantitative","scale":{"domain":[0.2975,0.5865],"nice":false,"zero":false},"axis":{"title":"NC3","values":[0.3,0.35,0.4,0.45,0.5,0.55],"format":".2f","grid":true}},"color":{"field":"s","type":"nominal","scale":{"domain":["c","r","k"],"range":["#0000ff","#ffa500","#000000"]}}}}
]},
{"width":322,"height":202,"data":{"name":"vN4"},
"encoding":{"x":{"field":"e","type":"quantitative","scale":{"domain":[-18.75,415.75],"nice":false,"zero":false},"axis":{"title":"epoch","values":[0,50,100,150,200,250,300,350,400],"grid":true}}},
"layer":[
{"mark":{"type":"area","fillOpacity":0.45},"encoding":{"y":{"field":"l","type":"quantitative","scale":{"domain":[0.0135,0.7175],"nice":false,"zero":false},"axis":{"title":"NC4","values":[0.1,0.2,0.3,0.4,0.5,0.6,0.7],"format":".1f","grid":true}},"y2":{"field":"h"},"fill":{"field":"s","type":"nominal","scale":{"domain":["c","r","k"],"range":["#0000ff","#ffa500","#000000"]},"legend":null}}},
{"mark":{"type":"line","strokeWidth":1.3},"encoding":{"y":{"field":"v","type":"quantitative","scale":{"domain":[0.0135,0.7175],"nice":false,"zero":false},"axis":{"title":"NC4","values":[0.1,0.2,0.3,0.4,0.5,0.6,0.7],"format":".1f","grid":true}},"color":{"field":"s","type":"nominal","scale":{"domain":["c","r","k"],"range":["#0000ff","#ffa500","#000000"]}}}}
]}
]
}
